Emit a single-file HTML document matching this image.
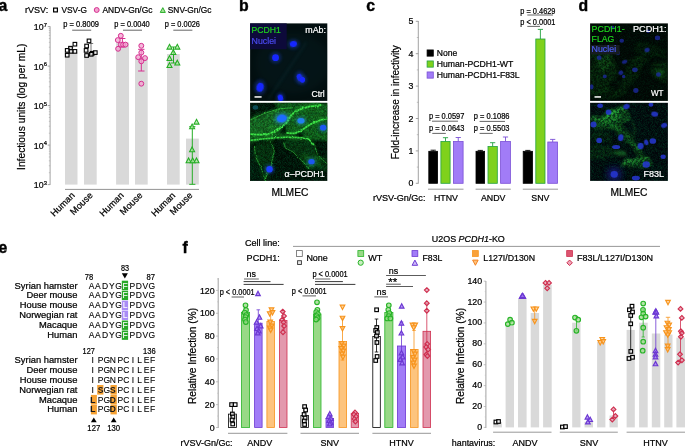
<!DOCTYPE html>
<html><head><meta charset="utf-8"><title>Figure</title>
<style>
html,body{margin:0;padding:0;background:#fff;}
svg{display:block;font-family:"Liberation Sans", sans-serif;}
text{font-family:"Liberation Sans", sans-serif;}
</style></head>
<body>
<svg width="685" height="446" viewBox="0 0 685 446">
<defs>
<filter id="b1" x="-50%" y="-50%" width="200%" height="200%"><feGaussianBlur stdDeviation="4"/></filter>
<filter id="b2" x="-50%" y="-50%" width="200%" height="200%"><feGaussianBlur stdDeviation="9"/></filter>
<filter id="b3" x="-50%" y="-50%" width="200%" height="200%"><feGaussianBlur stdDeviation="20"/></filter>
<filter id="b0" x="-50%" y="-50%" width="200%" height="200%"><feGaussianBlur stdDeviation="2"/></filter>
<filter id="noise" x="0" y="0" width="100%" height="100%">
<feTurbulence type="fractalNoise" baseFrequency="0.9" numOctaves="2" seed="3" result="n"/>
<feColorMatrix in="n" type="matrix" values="0 0 0 0 0  0 0 0 0 0.9  0 0 0 0 0.2  0 1.6 0 0 -0.55"/>
</filter>
<filter id="rough" x="-10%" y="-10%" width="120%" height="120%">
<feTurbulence type="fractalNoise" baseFrequency="0.035" numOctaves="2" seed="7" result="t"/>
<feDisplacementMap in="SourceGraphic" in2="t" scale="14" xChannelSelector="R" yChannelSelector="G" result="d"/>
<feGaussianBlur in="d" stdDeviation="2.6"/>
</filter>
<filter id="rough2" x="-10%" y="-10%" width="120%" height="120%">
<feTurbulence type="fractalNoise" baseFrequency="0.02" numOctaves="2" seed="11" result="t"/>
<feDisplacementMap in="SourceGraphic" in2="t" scale="40" xChannelSelector="R" yChannelSelector="G" result="d"/>
<feGaussianBlur in="d" stdDeviation="9"/>
</filter>
<filter id="tex" x="-15%" y="-15%" width="130%" height="130%" color-interpolation-filters="sRGB">
<feTurbulence type="fractalNoise" baseFrequency="0.02" numOctaves="2" seed="5" result="t"/>
<feTurbulence type="fractalNoise" baseFrequency="0.09" numOctaves="3" seed="9" result="t2"/>
<feColorMatrix in="t2" type="matrix" values="0 0 0 0 1  0 0 0 0 1  0 0 0 0 1  3.2 0 0 0 -1.15" result="mask"/>
<feDisplacementMap in="SourceGraphic" in2="t" scale="45" xChannelSelector="R" yChannelSelector="G" result="d"/>
<feGaussianBlur in="d" stdDeviation="7" result="g"/>
<feComposite in="g" in2="mask" operator="arithmetic" k1="0.85" k2="0.3" k3="0" k4="0"/>
</filter>
<clipPath id="cb1"><rect x="250.1" y="23.4" width="77.2" height="77.5"/></clipPath>
<clipPath id="cb2"><rect x="250.1" y="102.8" width="77.2" height="78.1"/></clipPath>
<clipPath id="cd1"><rect x="590.1" y="23.4" width="77.8" height="77.5"/></clipPath>
<clipPath id="cd2"><rect x="590.1" y="102.8" width="77.8" height="78.1"/></clipPath>
</defs>

<rect width="685" height="446" fill="#fff"/>
<text x="-1.50" y="10.80" font-size="15.8" font-weight="bold" stroke="#000" stroke-width="0.4">a</text>
<text x="24.90" y="13.00" font-size="8.8" textLength="23.30" lengthAdjust="spacingAndGlyphs" stroke="#000" stroke-width="0.22" >rVSV:</text>
<rect x="53.60" y="8.10" width="3.80" height="3.80" fill="#fff" stroke="#000" stroke-width="1.2"/>
<text x="61.50" y="13.00" font-size="8.8" textLength="25.40" lengthAdjust="spacingAndGlyphs" stroke="#000" stroke-width="0.22" >VSV-G</text>
<circle cx="96.70" cy="10.00" r="2.45" fill="#f3a3cf" stroke="#d62f90" stroke-width="1.0"/>
<text x="102.50" y="13.00" font-size="8.8" textLength="49.90" lengthAdjust="spacingAndGlyphs" stroke="#000" stroke-width="0.22" >ANDV-Gn/Gc</text>
<path d="M162.80 7.66L165.33 12.42L160.27 12.42Z" fill="#a9e49c" stroke="#25ad25" stroke-width="1.0" stroke-linejoin="miter"/>
<text x="167.80" y="13.00" font-size="8.8" textLength="43.60" lengthAdjust="spacingAndGlyphs" stroke="#000" stroke-width="0.22" >SNV-Gn/Gc</text>
<rect x="65.00" y="51.50" width="12.50" height="133.10" fill="#d9d9d9" />
<rect x="84.00" y="50.50" width="12.70" height="134.10" fill="#d9d9d9" />
<rect x="116.10" y="42.60" width="12.90" height="142.00" fill="#d9d9d9" />
<rect x="135.00" y="57.50" width="12.70" height="127.10" fill="#d9d9d9" />
<rect x="167.00" y="54.00" width="12.70" height="130.60" fill="#d9d9d9" />
<rect x="186.00" y="138.60" width="12.80" height="46.00" fill="#d9d9d9" />
<line x1="50.10" y1="26.30" x2="50.10" y2="184.90" stroke="#8c8c8c" stroke-width="0.8" />
<line x1="47.70" y1="184.60" x2="50.10" y2="184.60" stroke="#8c8c8c" stroke-width="0.8" />
<text x="43.60" y="188.40" font-size="8.8" text-anchor="end" stroke="#000" stroke-width="0.22" >10</text>
<text x="43.80" y="184.90" font-size="5.8" stroke="#000" stroke-width="0.22" >3</text>
<line x1="48.80" y1="172.71" x2="50.10" y2="172.71" stroke="#8c8c8c" stroke-width="0.4" />
<line x1="48.80" y1="165.75" x2="50.10" y2="165.75" stroke="#8c8c8c" stroke-width="0.4" />
<line x1="48.80" y1="160.82" x2="50.10" y2="160.82" stroke="#8c8c8c" stroke-width="0.4" />
<line x1="48.80" y1="156.99" x2="50.10" y2="156.99" stroke="#8c8c8c" stroke-width="0.4" />
<line x1="48.80" y1="153.86" x2="50.10" y2="153.86" stroke="#8c8c8c" stroke-width="0.4" />
<line x1="48.80" y1="151.22" x2="50.10" y2="151.22" stroke="#8c8c8c" stroke-width="0.4" />
<line x1="48.80" y1="148.93" x2="50.10" y2="148.93" stroke="#8c8c8c" stroke-width="0.4" />
<line x1="48.80" y1="146.91" x2="50.10" y2="146.91" stroke="#8c8c8c" stroke-width="0.4" />
<line x1="47.70" y1="145.10" x2="50.10" y2="145.10" stroke="#8c8c8c" stroke-width="0.8" />
<text x="43.60" y="148.90" font-size="8.8" text-anchor="end" stroke="#000" stroke-width="0.22" >10</text>
<text x="43.80" y="145.40" font-size="5.8" stroke="#000" stroke-width="0.22" >4</text>
<line x1="48.80" y1="133.21" x2="50.10" y2="133.21" stroke="#8c8c8c" stroke-width="0.4" />
<line x1="48.80" y1="126.25" x2="50.10" y2="126.25" stroke="#8c8c8c" stroke-width="0.4" />
<line x1="48.80" y1="121.32" x2="50.10" y2="121.32" stroke="#8c8c8c" stroke-width="0.4" />
<line x1="48.80" y1="117.49" x2="50.10" y2="117.49" stroke="#8c8c8c" stroke-width="0.4" />
<line x1="48.80" y1="114.36" x2="50.10" y2="114.36" stroke="#8c8c8c" stroke-width="0.4" />
<line x1="48.80" y1="111.72" x2="50.10" y2="111.72" stroke="#8c8c8c" stroke-width="0.4" />
<line x1="48.80" y1="109.43" x2="50.10" y2="109.43" stroke="#8c8c8c" stroke-width="0.4" />
<line x1="48.80" y1="107.41" x2="50.10" y2="107.41" stroke="#8c8c8c" stroke-width="0.4" />
<line x1="47.70" y1="105.60" x2="50.10" y2="105.60" stroke="#8c8c8c" stroke-width="0.8" />
<text x="43.60" y="109.40" font-size="8.8" text-anchor="end" stroke="#000" stroke-width="0.22" >10</text>
<text x="43.80" y="105.90" font-size="5.8" stroke="#000" stroke-width="0.22" >5</text>
<line x1="48.80" y1="93.71" x2="50.10" y2="93.71" stroke="#8c8c8c" stroke-width="0.4" />
<line x1="48.80" y1="86.75" x2="50.10" y2="86.75" stroke="#8c8c8c" stroke-width="0.4" />
<line x1="48.80" y1="81.82" x2="50.10" y2="81.82" stroke="#8c8c8c" stroke-width="0.4" />
<line x1="48.80" y1="77.99" x2="50.10" y2="77.99" stroke="#8c8c8c" stroke-width="0.4" />
<line x1="48.80" y1="74.86" x2="50.10" y2="74.86" stroke="#8c8c8c" stroke-width="0.4" />
<line x1="48.80" y1="72.22" x2="50.10" y2="72.22" stroke="#8c8c8c" stroke-width="0.4" />
<line x1="48.80" y1="69.93" x2="50.10" y2="69.93" stroke="#8c8c8c" stroke-width="0.4" />
<line x1="48.80" y1="67.91" x2="50.10" y2="67.91" stroke="#8c8c8c" stroke-width="0.4" />
<line x1="47.70" y1="66.10" x2="50.10" y2="66.10" stroke="#8c8c8c" stroke-width="0.8" />
<text x="43.60" y="69.90" font-size="8.8" text-anchor="end" stroke="#000" stroke-width="0.22" >10</text>
<text x="43.80" y="66.40" font-size="5.8" stroke="#000" stroke-width="0.22" >6</text>
<line x1="48.80" y1="54.21" x2="50.10" y2="54.21" stroke="#8c8c8c" stroke-width="0.4" />
<line x1="48.80" y1="47.25" x2="50.10" y2="47.25" stroke="#8c8c8c" stroke-width="0.4" />
<line x1="48.80" y1="42.32" x2="50.10" y2="42.32" stroke="#8c8c8c" stroke-width="0.4" />
<line x1="48.80" y1="38.49" x2="50.10" y2="38.49" stroke="#8c8c8c" stroke-width="0.4" />
<line x1="48.80" y1="35.36" x2="50.10" y2="35.36" stroke="#8c8c8c" stroke-width="0.4" />
<line x1="48.80" y1="32.72" x2="50.10" y2="32.72" stroke="#8c8c8c" stroke-width="0.4" />
<line x1="48.80" y1="30.43" x2="50.10" y2="30.43" stroke="#8c8c8c" stroke-width="0.4" />
<line x1="48.80" y1="28.41" x2="50.10" y2="28.41" stroke="#8c8c8c" stroke-width="0.4" />
<line x1="47.70" y1="26.60" x2="50.10" y2="26.60" stroke="#8c8c8c" stroke-width="0.8" />
<text x="43.60" y="30.40" font-size="8.8" text-anchor="end" stroke="#000" stroke-width="0.22" >10</text>
<text x="43.80" y="26.90" font-size="5.8" stroke="#000" stroke-width="0.22" >7</text>
<line x1="65.00" y1="189.40" x2="199.00" y2="189.40" stroke="#777" stroke-width="0.8" />
<text x="75.30" y="196.00" font-size="9.2" text-anchor="end" transform="rotate(-45 75.30 196.00)" stroke="#000" stroke-width="0.22" >Human</text>
<text x="93.30" y="196.00" font-size="9.2" text-anchor="end" transform="rotate(-45 93.30 196.00)" stroke="#000" stroke-width="0.22" >Mouse</text>
<text x="124.30" y="196.00" font-size="9.2" text-anchor="end" transform="rotate(-45 124.30 196.00)" stroke="#000" stroke-width="0.22" >Human</text>
<text x="143.10" y="196.00" font-size="9.2" text-anchor="end" transform="rotate(-45 143.10 196.00)" stroke="#000" stroke-width="0.22" >Mouse</text>
<text x="175.90" y="196.00" font-size="9.2" text-anchor="end" transform="rotate(-45 175.90 196.00)" stroke="#000" stroke-width="0.22" >Human</text>
<text x="193.00" y="196.00" font-size="9.2" text-anchor="end" transform="rotate(-45 193.00 196.00)" stroke="#000" stroke-width="0.22" >Mouse</text>
<text x="25.20" y="106.80" font-size="10.2" text-anchor="middle" textLength="126.30" lengthAdjust="spacingAndGlyphs" transform="rotate(-90 25.20 106.80)" stroke="#000" stroke-width="0.22" >Infectious units (log per mL)</text>
<text x="63.30" y="27.30" font-size="8.3" textLength="35.70" lengthAdjust="spacingAndGlyphs" stroke="#000" stroke-width="0.22" >p = 0.8009</text>
<line x1="72.20" y1="30.20" x2="91.20" y2="30.20" stroke="#666" stroke-width="1.0" />
<text x="114.30" y="27.30" font-size="8.3" textLength="35.40" lengthAdjust="spacingAndGlyphs" stroke="#000" stroke-width="0.22" >p = 0.0040</text>
<line x1="123.00" y1="30.20" x2="142.00" y2="30.20" stroke="#666" stroke-width="1.0" />
<text x="164.80" y="27.30" font-size="8.3" textLength="35.20" lengthAdjust="spacingAndGlyphs" stroke="#000" stroke-width="0.22" >p = 0.0026</text>
<line x1="173.30" y1="30.20" x2="192.40" y2="30.20" stroke="#666" stroke-width="1.0" />
<line x1="71.00" y1="47.50" x2="71.00" y2="52.50" stroke="#555" stroke-width="0.8" />
<line x1="68.80" y1="47.50" x2="73.20" y2="47.50" stroke="#555" stroke-width="0.8" />
<line x1="68.80" y1="52.50" x2="73.20" y2="52.50" stroke="#555" stroke-width="0.8" />
<rect x="73.10" y="42.40" width="3.60" height="3.60" fill="#fff" fill-opacity="0.6" stroke="#000" stroke-width="1.1"/>
<rect x="68.70" y="46.40" width="3.60" height="3.60" fill="#fff" fill-opacity="0.6" stroke="#000" stroke-width="1.1"/>
<rect x="65.40" y="48.60" width="3.60" height="3.60" fill="#fff" fill-opacity="0.6" stroke="#000" stroke-width="1.1"/>
<rect x="69.30" y="49.60" width="3.60" height="3.60" fill="#fff" fill-opacity="0.6" stroke="#000" stroke-width="1.1"/>
<rect x="73.10" y="49.60" width="3.60" height="3.60" fill="#fff" fill-opacity="0.6" stroke="#000" stroke-width="1.1"/>
<rect x="65.40" y="53.40" width="3.60" height="3.60" fill="#fff" fill-opacity="0.6" stroke="#000" stroke-width="1.1"/>
<line x1="91.00" y1="43.50" x2="91.00" y2="55.20" stroke="#555" stroke-width="0.8" />
<line x1="88.80" y1="43.50" x2="93.20" y2="43.50" stroke="#555" stroke-width="0.8" />
<line x1="88.80" y1="55.20" x2="93.20" y2="55.20" stroke="#555" stroke-width="0.8" />
<rect x="87.20" y="39.10" width="3.60" height="3.60" fill="#fff" fill-opacity="0.6" stroke="#000" stroke-width="1.1"/>
<rect x="84.80" y="44.20" width="3.60" height="3.60" fill="#fff" fill-opacity="0.6" stroke="#000" stroke-width="1.1"/>
<rect x="84.30" y="48.60" width="3.60" height="3.60" fill="#fff" fill-opacity="0.6" stroke="#000" stroke-width="1.1"/>
<rect x="90.50" y="51.50" width="3.60" height="3.60" fill="#fff" fill-opacity="0.6" stroke="#000" stroke-width="1.1"/>
<rect x="93.50" y="50.80" width="3.60" height="3.60" fill="#fff" fill-opacity="0.6" stroke="#000" stroke-width="1.1"/>
<rect x="84.80" y="53.70" width="3.60" height="3.60" fill="#fff" fill-opacity="0.6" stroke="#000" stroke-width="1.1"/>
<rect x="89.40" y="52.50" width="3.60" height="3.60" fill="#fff" fill-opacity="0.6" stroke="#000" stroke-width="1.1"/>
<line x1="122.40" y1="38.50" x2="122.40" y2="47.00" stroke="#d62f90" stroke-width="1.0" />
<line x1="119.40" y1="38.50" x2="125.40" y2="38.50" stroke="#d62f90" stroke-width="1.0" />
<line x1="119.40" y1="47.00" x2="125.40" y2="47.00" stroke="#d62f90" stroke-width="1.0" />
<circle cx="120.80" cy="35.80" r="2.45" fill="#f3a3cf" fill-opacity="0.75" stroke="#d62f90" stroke-width="1.0"/>
<circle cx="117.80" cy="40.10" r="2.45" fill="#f3a3cf" fill-opacity="0.75" stroke="#d62f90" stroke-width="1.0"/>
<circle cx="120.80" cy="44.60" r="2.45" fill="#f3a3cf" fill-opacity="0.75" stroke="#d62f90" stroke-width="1.0"/>
<circle cx="123.10" cy="44.60" r="2.45" fill="#f3a3cf" fill-opacity="0.75" stroke="#d62f90" stroke-width="1.0"/>
<circle cx="125.50" cy="44.60" r="2.45" fill="#f3a3cf" fill-opacity="0.75" stroke="#d62f90" stroke-width="1.0"/>
<circle cx="118.10" cy="48.80" r="2.45" fill="#f3a3cf" fill-opacity="0.75" stroke="#d62f90" stroke-width="1.0"/>
<line x1="141.30" y1="49.30" x2="141.30" y2="71.00" stroke="#d62f90" stroke-width="1.0" />
<line x1="138.10" y1="49.30" x2="144.50" y2="49.30" stroke="#d62f90" stroke-width="1.0" />
<line x1="138.10" y1="71.00" x2="144.50" y2="71.00" stroke="#d62f90" stroke-width="1.0" />
<circle cx="141.30" cy="45.80" r="2.45" fill="#f3a3cf" fill-opacity="0.75" stroke="#d62f90" stroke-width="1.0"/>
<circle cx="141.30" cy="52.60" r="2.45" fill="#f3a3cf" fill-opacity="0.75" stroke="#d62f90" stroke-width="1.0"/>
<circle cx="138.20" cy="57.20" r="2.45" fill="#f3a3cf" fill-opacity="0.75" stroke="#d62f90" stroke-width="1.0"/>
<circle cx="145.00" cy="58.10" r="2.45" fill="#f3a3cf" fill-opacity="0.75" stroke="#d62f90" stroke-width="1.0"/>
<circle cx="141.30" cy="61.30" r="2.45" fill="#f3a3cf" fill-opacity="0.75" stroke="#d62f90" stroke-width="1.0"/>
<circle cx="141.30" cy="83.70" r="2.45" fill="#f3a3cf" fill-opacity="0.75" stroke="#d62f90" stroke-width="1.0"/>
<line x1="173.50" y1="47.00" x2="173.50" y2="63.00" stroke="#25ad25" stroke-width="1.0" />
<line x1="170.70" y1="47.00" x2="176.30" y2="47.00" stroke="#25ad25" stroke-width="1.0" />
<line x1="170.70" y1="63.00" x2="176.30" y2="63.00" stroke="#25ad25" stroke-width="1.0" />
<path d="M169.50 44.36L172.03 49.12L166.97 49.12Z" fill="#a9e49c" fill-opacity="0.75" stroke="#25ad25" stroke-width="1.05" stroke-linejoin="miter"/>
<path d="M177.30 44.36L179.83 49.12L174.77 49.12Z" fill="#a9e49c" fill-opacity="0.75" stroke="#25ad25" stroke-width="1.05" stroke-linejoin="miter"/>
<path d="M173.30 49.66L175.83 54.42L170.77 54.42Z" fill="#a9e49c" fill-opacity="0.75" stroke="#25ad25" stroke-width="1.05" stroke-linejoin="miter"/>
<path d="M169.50 55.66L172.03 60.42L166.97 60.42Z" fill="#a9e49c" fill-opacity="0.75" stroke="#25ad25" stroke-width="1.05" stroke-linejoin="miter"/>
<path d="M177.30 60.16L179.83 64.92L174.77 64.92Z" fill="#a9e49c" fill-opacity="0.75" stroke="#25ad25" stroke-width="1.05" stroke-linejoin="miter"/>
<path d="M169.50 62.66L172.03 67.42L166.97 67.42Z" fill="#a9e49c" fill-opacity="0.75" stroke="#25ad25" stroke-width="1.05" stroke-linejoin="miter"/>
<line x1="192.30" y1="126.70" x2="192.30" y2="184.30" stroke="#25ad25" stroke-width="1.0" />
<line x1="189.20" y1="126.70" x2="195.40" y2="126.70" stroke="#25ad25" stroke-width="1.0" />
<line x1="189.20" y1="184.30" x2="195.40" y2="184.30" stroke="#25ad25" stroke-width="1.0" />
<path d="M196.50 119.36L199.03 124.12L193.97 124.12Z" fill="#a9e49c" fill-opacity="0.75" stroke="#25ad25" stroke-width="1.05" stroke-linejoin="miter"/>
<path d="M192.10 124.06L194.63 128.82L189.57 128.82Z" fill="#a9e49c" fill-opacity="0.75" stroke="#25ad25" stroke-width="1.05" stroke-linejoin="miter"/>
<path d="M192.10 146.95L194.63 151.72L189.57 151.72Z" fill="#a9e49c" fill-opacity="0.75" stroke="#25ad25" stroke-width="1.05" stroke-linejoin="miter"/>
<path d="M188.60 157.95L191.13 162.72L186.07 162.72Z" fill="#a9e49c" fill-opacity="0.75" stroke="#25ad25" stroke-width="1.05" stroke-linejoin="miter"/>
<path d="M192.70 157.95L195.23 162.72L190.17 162.72Z" fill="#a9e49c" fill-opacity="0.75" stroke="#25ad25" stroke-width="1.05" stroke-linejoin="miter"/>
<path d="M196.50 157.95L199.03 162.72L193.97 162.72Z" fill="#a9e49c" fill-opacity="0.75" stroke="#25ad25" stroke-width="1.05" stroke-linejoin="miter"/>
<text x="239.00" y="10.70" font-size="15.8" font-weight="bold" stroke="#000" stroke-width="0.4">b</text>
<rect x="250.10" y="23.40" width="77.20" height="77.50" fill="#030f10" />
<g clip-path="url(#cb1)"><g transform="translate(246 20) scale(0.18818)">
<ellipse cx="250" cy="230" rx="200" ry="160" fill="#0a2a30" opacity="0.22" filter="url(#b3)" transform="scale(1)"/>
<path d="M120 420 Q200 300 320 120" stroke="#0e3a40" stroke-width="10" fill="none" opacity="0.35" filter="url(#b2)"/>
<ellipse cx="252" cy="128" rx="32.3" ry="27.2" fill="#1438a8" opacity="0.45" filter="url(#b2)"/>
<ellipse cx="252" cy="128" rx="19" ry="16" fill="#1828ff" opacity="1" filter="url(#b1)" transform="rotate(-10 252 128)"/>
<ellipse cx="157" cy="200" rx="30.599999999999998" ry="30.599999999999998" fill="#1438a8" opacity="0.45" filter="url(#b2)"/>
<ellipse cx="157" cy="200" rx="18" ry="18" fill="#1828ff" opacity="1" filter="url(#b1)" transform="rotate(0 157 200)"/>
<ellipse cx="285" cy="305" rx="25.5" ry="34.0" fill="#1438a8" opacity="0.45" filter="url(#b2)"/>
<ellipse cx="285" cy="305" rx="15" ry="20" fill="#1828ff" opacity="1" filter="url(#b1)" transform="rotate(-20 285 305)"/>
<ellipse cx="300" cy="318" rx="23.8" ry="25.5" fill="#1438a8" opacity="0.45" filter="url(#b2)"/>
<ellipse cx="300" cy="318" rx="14" ry="15" fill="#1828ff" opacity="1" filter="url(#b1)" transform="rotate(0 300 318)"/>
<ellipse cx="75" cy="357" rx="32.3" ry="40.8" fill="#1438a8" opacity="0.45" filter="url(#b2)"/>
<ellipse cx="75" cy="357" rx="19" ry="24" fill="#1828ff" opacity="1" filter="url(#b1)" transform="rotate(15 75 357)"/>
<ellipse cx="183" cy="414" rx="23.8" ry="30.599999999999998" fill="#1438a8" opacity="0.45" filter="url(#b2)"/>
<ellipse cx="183" cy="414" rx="14" ry="18" fill="#1828ff" opacity="1" filter="url(#b1)" transform="rotate(-15 183 414)"/>
</g></g>
<rect x="250.10" y="23.40" width="36.60" height="25.80" fill="#0d0a3a" />
<text x="251.60" y="32.80" font-size="9.2" textLength="29.20" lengthAdjust="spacingAndGlyphs" fill="#1fd11f" stroke="#1fd11f" stroke-width="0.22" >PCDH1</text>
<text x="251.60" y="43.50" font-size="9.2" textLength="24.40" lengthAdjust="spacingAndGlyphs" fill="#4a4aee" stroke="#4a4aee" stroke-width="0.22" >Nuclei</text>
<text x="305.30" y="32.80" font-size="9.2" textLength="20.70" lengthAdjust="spacingAndGlyphs" fill="#fff" stroke="#fff" stroke-width="0.22" >mAb:</text>
<text x="311.50" y="96.80" font-size="9.2" textLength="13.20" lengthAdjust="spacingAndGlyphs" fill="#fff" stroke="#fff" stroke-width="0.22" >Ctrl</text>
<rect x="254.50" y="96.20" width="7.10" height="1.50" fill="#fff" />
<rect x="250.10" y="102.80" width="77.20" height="78.10" fill="#020a04" />
<g clip-path="url(#cb2)"><g transform="translate(246 100) scale(0.18818)">
<path d="M10 110 L100 68 L180 45 L250 40 L240 85 L215 125 L160 168 L100 188 L10 184Z" fill="#22832a" opacity="0.36300000000000004" filter="url(#rough2)"/>
<path d="M10 110 L100 68 L180 45 L250 40 L240 85 L215 125 L160 168 L100 188 L10 184Z" fill="#22832a" opacity="0.66" filter="url(#tex)"/>
<path d="M150 10 L440 10 L440 40 L330 38 L270 58 L250 40 L180 45Z" fill="#1a7420" opacity="0.33" filter="url(#rough2)"/>
<path d="M150 10 L440 10 L440 40 L330 38 L270 58 L250 40 L180 45Z" fill="#1a7420" opacity="0.6" filter="url(#tex)"/>
<path d="M250 45 L330 36 L440 28 L440 95 L400 105 L340 132 L300 160 L255 180 L215 176 L217 126 L242 82Z" fill="#1b7520" opacity="0.385" filter="url(#rough2)"/>
<path d="M250 45 L330 36 L440 28 L440 95 L400 105 L340 132 L300 160 L255 180 L215 176 L217 126 L242 82Z" fill="#1b7520" opacity="0.7" filter="url(#tex)"/>
<path d="M300 160 L340 132 L400 105 L440 95 L440 215 L345 215 L300 200Z" fill="#1a7a20" opacity="0.35750000000000004" filter="url(#rough2)"/>
<path d="M300 160 L340 132 L400 105 L440 95 L440 215 L345 215 L300 200Z" fill="#1a7a20" opacity="0.65" filter="url(#tex)"/>
<path d="M10 186 L100 190 L160 170 L215 178 L300 202 L345 217 L330 205 L220 199 L150 202 L80 210 L10 217Z" fill="#1d7d22" opacity="0.35750000000000004" filter="url(#rough2)"/>
<path d="M10 186 L100 190 L160 170 L215 178 L300 202 L345 217 L330 205 L220 199 L150 202 L80 210 L10 217Z" fill="#1d7d22" opacity="0.65" filter="url(#tex)"/>
<path d="M45 245 L115 215 L142 242 L150 272 L140 312 L120 380 L100 425 L75 352 L50 300Z" fill="#0d4211" opacity="0.24750000000000003" filter="url(#rough2)"/>
<path d="M45 245 L115 215 L142 242 L150 272 L140 312 L120 380 L100 425 L75 352 L50 300Z" fill="#0d4211" opacity="0.45" filter="url(#tex)"/>
<path d="M200 225 L330 205 L365 245 L382 292 L412 322 L440 345 L440 380 L345 365 L320 345 L290 315 L250 276 L210 256Z" fill="#0f4a14" opacity="0.24750000000000003" filter="url(#rough2)"/>
<path d="M200 225 L330 205 L365 245 L382 292 L412 322 L440 345 L440 380 L345 365 L320 345 L290 315 L250 276 L210 256Z" fill="#0f4a14" opacity="0.45" filter="url(#tex)"/>
<path d="M300 290 L385 295 L400 350 L330 360Z" fill="#17691c" opacity="0.24750000000000003" filter="url(#rough2)"/>
<path d="M300 290 L385 295 L400 350 L330 360Z" fill="#17691c" opacity="0.45" filter="url(#tex)"/>
<path d="M10 225 L45 245 L50 300 L75 352 L100 430 L10 430Z" fill="#04160a" opacity="0.49500000000000005" filter="url(#rough2)"/>
<path d="M10 225 L45 245 L50 300 L75 352 L100 430 L10 430Z" fill="#04160a" opacity="0.9" filter="url(#tex)"/>
<rect x="10" y="10" width="430" height="430" filter="url(#noise)" opacity="0.22"/>
<path d="M10 181 L100 186 L160 166 L215 122 L241 80 L270 56 L330 36 L400 26" stroke="#2fc83a" stroke-width="18.2" fill="none" opacity="0.266" filter="url(#rough2)" stroke-linejoin="round"/>
<path d="M215 175 L260 178 L300 158 L340 130 L400 105 L440 95" stroke="#2fc83a" stroke-width="18.2" fill="none" opacity="0.266" filter="url(#rough2)" stroke-linejoin="round"/>
<path d="M10 216 L80 208 L150 201 L220 198 L300 201 L340 215 L362 238" stroke="#2fc83a" stroke-width="15.600000000000001" fill="none" opacity="0.25200000000000006" filter="url(#rough2)" stroke-linejoin="round"/>
<path d="M45 245 L50 300 L76 352 L95 400 L106 432" stroke="#2fc83a" stroke-width="8.84" fill="none" opacity="0.18200000000000002" filter="url(#rough2)" stroke-linejoin="round"/>
<path d="M115 215 L141 242 L150 272 L141 312 L132 345" stroke="#2fc83a" stroke-width="8.84" fill="none" opacity="0.168" filter="url(#rough2)" stroke-linejoin="round"/>
<path d="M200 226 L210 256 L250 276 L290 316 L320 346 L342 362" stroke="#2fc83a" stroke-width="8.84" fill="none" opacity="0.18200000000000002" filter="url(#rough2)" stroke-linejoin="round"/>
<path d="M330 205 L365 246 L381 292 L411 322 L440 346" stroke="#2fc83a" stroke-width="8.84" fill="none" opacity="0.168" filter="url(#rough2)" stroke-linejoin="round"/>
<path d="M10 112 L100 70 L180 46 L250 41" stroke="#2fc83a" stroke-width="10.4" fill="none" opacity="0.168" filter="url(#rough2)" stroke-linejoin="round"/>
<path d="M100 425 L120 380 L140 335" stroke="#2fc83a" stroke-width="10.4" fill="none" opacity="0.168" filter="url(#rough2)" stroke-linejoin="round"/>
<path d="M120 135 L170 150 L200 130" stroke="#2fc83a" stroke-width="7.800000000000001" fill="none" opacity="0.11200000000000002" filter="url(#rough2)" stroke-linejoin="round"/>
<path d="M10 181 L100 186 L160 166 L215 122 L241 80 L270 56 L330 36 L400 26" stroke="#3fe84a" stroke-width="9.450000000000001" fill="none" opacity="0.95" filter="url(#rough)" stroke-linejoin="round" stroke-dasharray="13 2.5"/>
<path d="M215 175 L260 178 L300 158 L340 130 L400 105 L440 95" stroke="#3fe84a" stroke-width="9.450000000000001" fill="none" opacity="0.95" filter="url(#rough)" stroke-linejoin="round" stroke-dasharray="13 2.5"/>
<path d="M10 216 L80 208 L150 201 L220 198 L300 201 L340 215 L362 238" stroke="#3fe84a" stroke-width="8.100000000000001" fill="none" opacity="0.9" filter="url(#rough)" stroke-linejoin="round" stroke-dasharray="13 2.5"/>
<path d="M45 245 L50 300 L76 352 L95 400 L106 432" stroke="#3fe84a" stroke-width="4.59" fill="none" opacity="0.65" filter="url(#rough)" stroke-linejoin="round" stroke-dasharray="13 2.5"/>
<path d="M115 215 L141 242 L150 272 L141 312 L132 345" stroke="#3fe84a" stroke-width="4.59" fill="none" opacity="0.6" filter="url(#rough)" stroke-linejoin="round" stroke-dasharray="13 2.5"/>
<path d="M200 226 L210 256 L250 276 L290 316 L320 346 L342 362" stroke="#3fe84a" stroke-width="4.59" fill="none" opacity="0.65" filter="url(#rough)" stroke-linejoin="round" stroke-dasharray="13 2.5"/>
<path d="M330 205 L365 246 L381 292 L411 322 L440 346" stroke="#3fe84a" stroke-width="4.59" fill="none" opacity="0.6" filter="url(#rough)" stroke-linejoin="round" stroke-dasharray="13 2.5"/>
<path d="M10 112 L100 70 L180 46 L250 41" stroke="#3fe84a" stroke-width="5.4" fill="none" opacity="0.6" filter="url(#rough)" stroke-linejoin="round" stroke-dasharray="13 2.5"/>
<path d="M100 425 L120 380 L140 335" stroke="#3fe84a" stroke-width="5.4" fill="none" opacity="0.6" filter="url(#rough)" stroke-linejoin="round" stroke-dasharray="13 2.5"/>
<path d="M120 135 L170 150 L200 130" stroke="#3fe84a" stroke-width="4.050000000000001" fill="none" opacity="0.4" filter="url(#rough)" stroke-linejoin="round" stroke-dasharray="13 2.5"/>
<ellipse cx="190" cy="98" rx="40.5" ry="31.5" fill="#2a90c0" opacity="0.55" filter="url(#b2)" transform="rotate(-10 190 98)"/>
<ellipse cx="190" cy="98" rx="27" ry="21" fill="#1a6cff" filter="url(#b1)" transform="rotate(-10 190 98)"/>
<ellipse cx="292" cy="110" rx="28.5" ry="22.5" fill="#2a90c0" opacity="0.55" filter="url(#b2)" transform="rotate(0 292 110)"/>
<ellipse cx="292" cy="110" rx="19" ry="15" fill="#2080f0" filter="url(#b1)" transform="rotate(0 292 110)"/>
<ellipse cx="410" cy="147" rx="25.5" ry="22.5" fill="#1a70b0" opacity="0.55" filter="url(#b2)" transform="rotate(0 410 147)"/>
<ellipse cx="410" cy="147" rx="17" ry="15" fill="#1a58f0" filter="url(#b1)" transform="rotate(0 410 147)"/>
<ellipse cx="348" cy="328" rx="25.5" ry="21.0" fill="#1a70b0" opacity="0.55" filter="url(#b2)" transform="rotate(0 348 328)"/>
<ellipse cx="348" cy="328" rx="17" ry="14" fill="#1a58f0" filter="url(#b1)" transform="rotate(0 348 328)"/>
<ellipse cx="125" cy="368" rx="25.5" ry="25.5" fill="#1a50c0" opacity="0.55" filter="url(#b2)" transform="rotate(0 125 368)"/>
<ellipse cx="125" cy="368" rx="17" ry="17" fill="#1a40ff" filter="url(#b1)" transform="rotate(0 125 368)"/>
<ellipse cx="50" cy="40" rx="15" ry="12" fill="#0e5a68" opacity="0.8" filter="url(#b1)" transform="rotate(0 50 40)"/>
</g></g>
<text x="284.60" y="176.80" font-size="9.2" textLength="40.10" lengthAdjust="spacingAndGlyphs" fill="#fff" stroke="#fff" stroke-width="0.22" >α–PCDH1</text>
<text x="289.90" y="196.00" font-size="10.2" text-anchor="middle" textLength="37.00" lengthAdjust="spacingAndGlyphs" stroke="#000" stroke-width="0.22" >MLMEC</text>
<text x="366.30" y="10.90" font-size="15.8" font-weight="bold" stroke="#000" stroke-width="0.4">c</text>
<line x1="418.30" y1="21.00" x2="418.30" y2="183.60" stroke="#8c8c8c" stroke-width="0.8" />
<line x1="415.80" y1="183.30" x2="418.30" y2="183.30" stroke="#8c8c8c" stroke-width="0.8" />
<text x="413.50" y="186.40" font-size="8.8" text-anchor="end" stroke="#000" stroke-width="0.22" >0</text>
<line x1="416.80" y1="167.10" x2="418.30" y2="167.10" stroke="#8c8c8c" stroke-width="0.5" />
<line x1="415.80" y1="150.90" x2="418.30" y2="150.90" stroke="#8c8c8c" stroke-width="0.8" />
<text x="413.50" y="154.00" font-size="8.8" text-anchor="end" stroke="#000" stroke-width="0.22" >1</text>
<line x1="416.80" y1="134.70" x2="418.30" y2="134.70" stroke="#8c8c8c" stroke-width="0.5" />
<line x1="415.80" y1="118.50" x2="418.30" y2="118.50" stroke="#8c8c8c" stroke-width="0.8" />
<text x="413.50" y="121.60" font-size="8.8" text-anchor="end" stroke="#000" stroke-width="0.22" >2</text>
<line x1="416.80" y1="102.30" x2="418.30" y2="102.30" stroke="#8c8c8c" stroke-width="0.5" />
<line x1="415.80" y1="86.10" x2="418.30" y2="86.10" stroke="#8c8c8c" stroke-width="0.8" />
<text x="413.50" y="89.20" font-size="8.8" text-anchor="end" stroke="#000" stroke-width="0.22" >3</text>
<line x1="416.80" y1="69.90" x2="418.30" y2="69.90" stroke="#8c8c8c" stroke-width="0.5" />
<line x1="415.80" y1="53.70" x2="418.30" y2="53.70" stroke="#8c8c8c" stroke-width="0.8" />
<text x="413.50" y="56.80" font-size="8.8" text-anchor="end" stroke="#000" stroke-width="0.22" >4</text>
<line x1="416.80" y1="37.50" x2="418.30" y2="37.50" stroke="#8c8c8c" stroke-width="0.5" />
<line x1="415.80" y1="21.30" x2="418.30" y2="21.30" stroke="#8c8c8c" stroke-width="0.8" />
<text x="413.50" y="24.40" font-size="8.8" text-anchor="end" stroke="#000" stroke-width="0.22" >5</text>
<text x="399.40" y="102.20" font-size="10" text-anchor="middle" textLength="114.00" lengthAdjust="spacingAndGlyphs" transform="rotate(-90 399.40 102.20)" stroke="#000" stroke-width="0.22" >Fold-increase in infectivity</text>
<rect x="427.10" y="49.95" width="6.20" height="6.20" fill="#000" stroke="#000" stroke-width="0.8" />
<text x="436.70" y="56.00" font-size="8.8" textLength="20.50" lengthAdjust="spacingAndGlyphs" stroke="#000" stroke-width="0.22" >None</text>
<rect x="427.10" y="60.95" width="6.20" height="6.20" fill="#7fd11c" stroke="#23a23f" stroke-width="0.8" />
<text x="436.70" y="67.00" font-size="8.8" textLength="76.60" lengthAdjust="spacingAndGlyphs" stroke="#000" stroke-width="0.22" >Human-PCDH1-WT</text>
<rect x="427.10" y="71.95" width="6.20" height="6.20" fill="#a17cf7" stroke="#7a4fd6" stroke-width="0.8" />
<text x="436.70" y="78.00" font-size="8.8" textLength="83.00" lengthAdjust="spacingAndGlyphs" stroke="#000" stroke-width="0.22" >Human-PCDH1-F83L</text>
<line x1="433.20" y1="150.20" x2="433.20" y2="151.30" stroke="#000" stroke-width="0.9" />
<line x1="430.60" y1="150.20" x2="435.80" y2="150.20" stroke="#000" stroke-width="0.9" />
<rect x="428.80" y="151.30" width="8.80" height="32.00" fill="#000" stroke="#000" stroke-width="0.8" />
<line x1="445.50" y1="137.70" x2="445.50" y2="141.50" stroke="#23a23f" stroke-width="0.9" />
<line x1="442.90" y1="137.70" x2="448.10" y2="137.70" stroke="#23a23f" stroke-width="0.9" />
<rect x="440.90" y="141.50" width="9.20" height="41.80" fill="#7fd11c" stroke="#23a23f" stroke-width="0.8" />
<line x1="458.25" y1="137.50" x2="458.25" y2="141.50" stroke="#7a4fd6" stroke-width="0.9" />
<line x1="455.65" y1="137.50" x2="460.85" y2="137.50" stroke="#7a4fd6" stroke-width="0.9" />
<rect x="453.40" y="141.50" width="9.70" height="41.80" fill="#a17cf7" stroke="#7a4fd6" stroke-width="0.8" />
<line x1="428.00" y1="189.20" x2="463.50" y2="189.20" stroke="#808080" stroke-width="0.8" />
<text x="446.00" y="200.60" font-size="8.8" text-anchor="middle" stroke="#000" stroke-width="0.22" >HTNV</text>
<line x1="480.30" y1="150.40" x2="480.30" y2="151.30" stroke="#000" stroke-width="0.9" />
<line x1="477.70" y1="150.40" x2="482.90" y2="150.40" stroke="#000" stroke-width="0.9" />
<rect x="476.00" y="151.30" width="8.60" height="32.00" fill="#000" stroke="#000" stroke-width="0.8" />
<line x1="492.65" y1="142.70" x2="492.65" y2="146.50" stroke="#23a23f" stroke-width="0.9" />
<line x1="490.05" y1="142.70" x2="495.25" y2="142.70" stroke="#23a23f" stroke-width="0.9" />
<rect x="488.00" y="146.50" width="9.30" height="36.80" fill="#7fd11c" stroke="#23a23f" stroke-width="0.8" />
<line x1="505.50" y1="137.00" x2="505.50" y2="141.50" stroke="#7a4fd6" stroke-width="0.9" />
<line x1="502.90" y1="137.00" x2="508.10" y2="137.00" stroke="#7a4fd6" stroke-width="0.9" />
<rect x="500.60" y="141.50" width="9.80" height="41.80" fill="#a17cf7" stroke="#7a4fd6" stroke-width="0.8" />
<line x1="475.60" y1="189.20" x2="510.80" y2="189.20" stroke="#808080" stroke-width="0.8" />
<text x="493.20" y="200.60" font-size="8.8" text-anchor="middle" stroke="#000" stroke-width="0.22" >ANDV</text>
<line x1="527.85" y1="150.40" x2="527.85" y2="151.30" stroke="#000" stroke-width="0.9" />
<line x1="525.25" y1="150.40" x2="530.45" y2="150.40" stroke="#000" stroke-width="0.9" />
<rect x="523.20" y="151.30" width="9.30" height="32.00" fill="#000" stroke="#000" stroke-width="0.8" />
<line x1="540.40" y1="29.40" x2="540.40" y2="39.00" stroke="#23a23f" stroke-width="0.9" />
<line x1="537.80" y1="29.40" x2="543.00" y2="29.40" stroke="#23a23f" stroke-width="0.9" />
<rect x="535.80" y="39.00" width="9.20" height="144.30" fill="#7fd11c" stroke="#23a23f" stroke-width="0.8" />
<line x1="552.70" y1="139.40" x2="552.70" y2="142.00" stroke="#7a4fd6" stroke-width="0.9" />
<line x1="550.10" y1="139.40" x2="555.30" y2="139.40" stroke="#7a4fd6" stroke-width="0.9" />
<rect x="547.80" y="142.00" width="9.80" height="41.30" fill="#a17cf7" stroke="#7a4fd6" stroke-width="0.8" />
<line x1="522.80" y1="189.20" x2="558.00" y2="189.20" stroke="#808080" stroke-width="0.8" />
<text x="540.40" y="200.60" font-size="8.8" text-anchor="middle" stroke="#000" stroke-width="0.22" >SNV</text>
<text x="373.00" y="200.60" font-size="8.8" textLength="52.40" lengthAdjust="spacingAndGlyphs" stroke="#000" stroke-width="0.22" >rVSV-Gn/Gc:</text>
<text x="429.00" y="118.80" font-size="8.3" textLength="35.30" lengthAdjust="spacingAndGlyphs" stroke="#000" stroke-width="0.22" >p = 0.0597</text>
<line x1="432.00" y1="121.20" x2="458.00" y2="121.20" stroke="#555" stroke-width="0.9" />
<text x="429.00" y="131.00" font-size="8.3" textLength="35.30" lengthAdjust="spacingAndGlyphs" stroke="#000" stroke-width="0.22" >p = 0.0643</text>
<line x1="432.30" y1="133.40" x2="445.80" y2="133.40" stroke="#555" stroke-width="0.9" />
<text x="473.80" y="118.80" font-size="8.3" textLength="35.70" lengthAdjust="spacingAndGlyphs" stroke="#000" stroke-width="0.22" >p = 0.1086</text>
<line x1="479.60" y1="121.40" x2="505.00" y2="121.40" stroke="#555" stroke-width="0.9" />
<text x="473.80" y="131.00" font-size="8.3" textLength="35.70" lengthAdjust="spacingAndGlyphs" stroke="#000" stroke-width="0.22" >p = 0.5503</text>
<line x1="479.60" y1="133.40" x2="492.70" y2="133.40" stroke="#555" stroke-width="0.9" />
<text x="520.30" y="13.70" font-size="8.3" textLength="35.20" lengthAdjust="spacingAndGlyphs" stroke="#000" stroke-width="0.22" >p = 0.4629</text>
<line x1="527.30" y1="15.00" x2="553.00" y2="15.00" stroke="#555" stroke-width="0.9" />
<text x="520.30" y="24.60" font-size="8.3" textLength="35.20" lengthAdjust="spacingAndGlyphs" stroke="#000" stroke-width="0.22" >p &lt; 0.0001</text>
<line x1="527.30" y1="26.40" x2="540.00" y2="26.40" stroke="#555" stroke-width="0.9" />
<text x="578.50" y="10.80" font-size="15.8" font-weight="bold" stroke="#000" stroke-width="0.4">d</text>
<rect x="590.10" y="23.40" width="77.80" height="77.50" fill="#020604" />
<g clip-path="url(#cd1)"><g transform="translate(586 20) scale(0.18818)">
<path d="M25 185 L110 165 L160 215 L165 290 L120 370 L60 400 L25 380Z" fill="#145c18" opacity="0.34" filter="url(#tex)"/>
<path d="M55 195 L125 190 L140 250 L90 275 L60 250Z" fill="#238a28" opacity="0.26" filter="url(#tex)"/>
<path d="M215 250 L290 195 L335 205 L300 260 L250 330 L190 410 L140 420 L180 330Z" fill="#0f4a14" opacity="0.34" filter="url(#tex)"/>
<path d="M345 235 L435 215 L435 330 L385 335 L350 300Z" fill="#115016" opacity="0.34" filter="url(#tex)"/>
<path d="M372 262 L412 262 L412 300 L375 300Z" fill="#2fb83a" opacity="0.26" filter="url(#b2)"/>
<path d="M250 125 L330 115 L420 175 L330 195 L270 170Z" fill="#0c3c10" opacity="0.3" filter="url(#tex)"/>
<path d="M30 385 L140 345 L190 420 L30 430Z" fill="#0c3c10" opacity="0.3" filter="url(#tex)"/>
<path d="M235 215 L290 200 L330 160" stroke="#1f8a26" stroke-width="10.0" fill="none" opacity="0.315" filter="url(#tex)" stroke-linecap="round" stroke-linejoin="round"/>
<path d="M160 330 L175 360 L150 395" stroke="#1f8a26" stroke-width="10.0" fill="none" opacity="0.27999999999999997" filter="url(#tex)" stroke-linecap="round" stroke-linejoin="round"/>
<path d="M340 190 L400 185 L430 200" stroke="#1f8a26" stroke-width="8.0" fill="none" opacity="0.27999999999999997" filter="url(#tex)" stroke-linecap="round" stroke-linejoin="round"/>
<path d="M75 160 L120 150 L150 175" stroke="#1a7a20" stroke-width="8.0" fill="none" opacity="0.24499999999999997" filter="url(#tex)" stroke-linecap="round" stroke-linejoin="round"/>
<rect x="22" y="15" width="415" height="415" filter="url(#noise)" opacity="0.10"/>
<ellipse cx="380" cy="95" rx="14" ry="12" fill="#1e2ca6" opacity="0.75" filter="url(#b1)" transform="rotate(0 380 95)"/>
<ellipse cx="325" cy="160" rx="14" ry="12" fill="#1e2ca6" opacity="0.75" filter="url(#b1)" transform="rotate(-20 325 160)"/>
<ellipse cx="190" cy="110" rx="12" ry="11" fill="#1e2ca6" opacity="0.75" filter="url(#b1)" transform="rotate(0 190 110)"/>
<ellipse cx="170" cy="175" rx="11" ry="12" fill="#1e2ca6" opacity="0.75" filter="url(#b1)" transform="rotate(0 170 175)"/>
<ellipse cx="70" cy="200" rx="13" ry="12" fill="#1e2ca6" opacity="0.75" filter="url(#b1)" transform="rotate(0 70 200)"/>
<ellipse cx="205" cy="222" rx="15" ry="10" fill="#1e2ca6" opacity="0.75" filter="url(#b1)" transform="rotate(-20 205 222)"/>
<ellipse cx="260" cy="265" rx="15" ry="13" fill="#1e2ca6" opacity="0.75" filter="url(#b1)" transform="rotate(0 260 265)"/>
<ellipse cx="185" cy="280" rx="13" ry="12" fill="#1e2ca6" opacity="0.75" filter="url(#b1)" transform="rotate(-30 185 280)"/>
<ellipse cx="385" cy="290" rx="13" ry="12" fill="#1e2ca6" opacity="0.75" filter="url(#b1)" transform="rotate(0 385 290)"/>
<ellipse cx="100" cy="300" rx="10" ry="10" fill="#1e2ca6" opacity="0.75" filter="url(#b1)" transform="rotate(0 100 300)"/>
<ellipse cx="30" cy="355" rx="10" ry="14" fill="#1e2ca6" opacity="0.75" filter="url(#b1)" transform="rotate(0 30 355)"/>
<ellipse cx="265" cy="375" rx="14" ry="13" fill="#1e2ca6" opacity="0.75" filter="url(#b1)" transform="rotate(0 265 375)"/>
<ellipse cx="200" cy="300" rx="9" ry="9" fill="#1e2ca6" opacity="0.75" filter="url(#b1)" transform="rotate(0 200 300)"/>
<ellipse cx="140" cy="40" rx="12" ry="10" fill="#1e2ca6" opacity="0.75" filter="url(#b1)" transform="rotate(0 140 40)"/>
<ellipse cx="330" cy="60" rx="10" ry="9" fill="#1e2ca6" opacity="0.75" filter="url(#b1)" transform="rotate(0 330 60)"/>
</g></g>
<rect x="590.10" y="45.00" width="29.50" height="9.40" fill="#161c20" />
<text x="591.60" y="32.20" font-size="9.2" textLength="33.00" lengthAdjust="spacingAndGlyphs" fill="#1fd11f" stroke="#1fd11f" stroke-width="0.22" >PCDH1-</text>
<text x="591.60" y="41.60" font-size="9.2" textLength="22.60" lengthAdjust="spacingAndGlyphs" fill="#1fd11f" stroke="#1fd11f" stroke-width="0.22" >FLAG</text>
<text x="591.60" y="52.40" font-size="9.2" textLength="24.50" lengthAdjust="spacingAndGlyphs" fill="#4a5cec" stroke="#4a5cec" stroke-width="0.22" >Nuclei</text>
<text x="633.00" y="32.20" font-size="9.2" textLength="33.50" lengthAdjust="spacingAndGlyphs" fill="#fff" stroke="#fff" stroke-width="0.22" >PCDH1:</text>
<text x="650.90" y="96.20" font-size="9.2" textLength="12.60" lengthAdjust="spacingAndGlyphs" fill="#fff" stroke="#fff" stroke-width="0.22" >WT</text>
<rect x="594.50" y="96.20" width="6.50" height="1.50" fill="#fff" />
<rect x="590.10" y="102.80" width="77.80" height="78.10" fill="#02050a" />
<g clip-path="url(#cd2)"><g transform="translate(586 100) scale(0.18818)">
<path d="M25 95 L110 55 L205 30 L235 95 L200 130 L130 165 L40 155Z" fill="#1c8424" opacity="0.51" filter="url(#tex)"/>
<path d="M70 85 L165 55 L185 100 L110 135Z" fill="#30b83a" opacity="0.46" filter="url(#tex)"/>
<path d="M120 125 L200 130 L250 190 L300 255 L275 285 L220 230 L170 185Z" fill="#135a18" opacity="0.51" filter="url(#tex)"/>
<path d="M170 335 L250 312 L335 298 L345 355 L260 362 L185 352Z" fill="#1d8a26" opacity="0.51" filter="url(#tex)"/>
<path d="M150 268 L210 272 L215 298 L160 294Z" fill="#2aa030" opacity="0.46" filter="url(#b2)"/>
<path d="M25 235 L150 252 L160 300 L25 318Z" fill="#0c3c10" opacity="0.51" filter="url(#tex)"/>
<path d="M245 250 L300 270 L320 330 L265 312Z" fill="#17701c" opacity="0.51" filter="url(#tex)"/>
<path d="M25 160 L120 170 L150 230 L25 230Z" fill="#0a3410" opacity="0.46" filter="url(#tex)"/>
<path d="M35 100 L110 85 L170 60 L215 45" stroke="#3fd048" stroke-width="12.0" fill="none" opacity="0.48999999999999994" filter="url(#tex)" stroke-linecap="round" stroke-linejoin="round"/>
<path d="M130 130 L200 175 L255 230 L295 275" stroke="#2fb83a" stroke-width="10.0" fill="none" opacity="0.5249999999999999" filter="url(#tex)" stroke-linecap="round" stroke-linejoin="round"/>
<path d="M185 340 L250 322 L330 308" stroke="#3fd048" stroke-width="12.0" fill="none" opacity="0.48999999999999994" filter="url(#tex)" stroke-linecap="round" stroke-linejoin="round"/>
<path d="M240 120 L270 160 L255 180" stroke="#2fb83a" stroke-width="8.0" fill="none" opacity="0.42" filter="url(#tex)" stroke-linecap="round" stroke-linejoin="round"/>
<path d="M160 280 L205 285" stroke="#3fd048" stroke-width="10.0" fill="none" opacity="0.48999999999999994" filter="url(#tex)" stroke-linecap="round" stroke-linejoin="round"/>
<rect x="22" y="15" width="415" height="415" filter="url(#noise)" opacity="0.2"/>
<circle cx="150" cy="395" r="36" fill="#1a1a90" opacity="0.8" filter="url(#b3)"/>
<ellipse cx="75" cy="30" rx="15.120000000000001" ry="11.88" fill="#2838d4" opacity="0.85" filter="url(#b1)" transform="rotate(0 75 30)"/>
<ellipse cx="215" cy="35" rx="17.28" ry="14.040000000000001" fill="#2838d4" opacity="0.85" filter="url(#b1)" transform="rotate(-20 215 35)"/>
<ellipse cx="120" cy="65" rx="15.120000000000001" ry="14.040000000000001" fill="#2838d4" opacity="0.85" filter="url(#b1)" transform="rotate(0 120 65)"/>
<ellipse cx="365" cy="75" rx="18.36" ry="14.040000000000001" fill="#2838d4" opacity="0.85" filter="url(#b1)" transform="rotate(10 365 75)"/>
<ellipse cx="415" cy="135" rx="16.200000000000003" ry="12.96" fill="#2838d4" opacity="0.85" filter="url(#b1)" transform="rotate(-20 415 135)"/>
<ellipse cx="40" cy="130" rx="16.200000000000003" ry="16.200000000000003" fill="#2838d4" opacity="0.85" filter="url(#b1)" transform="rotate(0 40 130)"/>
<ellipse cx="185" cy="200" rx="14.040000000000001" ry="18.36" fill="#2838d4" opacity="0.85" filter="url(#b1)" transform="rotate(10 185 200)"/>
<ellipse cx="70" cy="215" rx="15.120000000000001" ry="14.040000000000001" fill="#2838d4" opacity="0.85" filter="url(#b1)" transform="rotate(0 70 215)"/>
<ellipse cx="355" cy="218" rx="17.28" ry="15.120000000000001" fill="#2838d4" opacity="0.85" filter="url(#b1)" transform="rotate(0 355 218)"/>
<ellipse cx="320" cy="225" rx="10.8" ry="15.120000000000001" fill="#2838d4" opacity="0.85" filter="url(#b1)" transform="rotate(-20 320 225)"/>
<ellipse cx="290" cy="245" rx="16.200000000000003" ry="17.28" fill="#2838d4" opacity="0.85" filter="url(#b1)" transform="rotate(10 290 245)"/>
<ellipse cx="160" cy="250" rx="21.6" ry="10.8" fill="#2838d4" opacity="0.85" filter="url(#b1)" transform="rotate(0 160 250)"/>
<ellipse cx="410" cy="302" rx="14.040000000000001" ry="11.88" fill="#2838d4" opacity="0.85" filter="url(#b1)" transform="rotate(0 410 302)"/>
<ellipse cx="320" cy="343" rx="19.44" ry="17.28" fill="#2838d4" opacity="0.85" filter="url(#b1)" transform="rotate(0 320 343)"/>
<ellipse cx="150" cy="395" rx="19.44" ry="18.36" fill="#2838d4" opacity="0.85" filter="url(#b1)" transform="rotate(0 150 395)"/>
<ellipse cx="265" cy="415" rx="21.6" ry="12.96" fill="#2838d4" opacity="0.85" filter="url(#b1)" transform="rotate(0 265 415)"/>
<ellipse cx="345" cy="25" rx="12.96" ry="10.8" fill="#2838d4" opacity="0.85" filter="url(#b1)" transform="rotate(0 345 25)"/>
</g></g>
<text x="643.40" y="176.80" font-size="9.2" textLength="20.70" lengthAdjust="spacingAndGlyphs" fill="#fff" stroke="#fff" stroke-width="0.22" >F83L</text>
<text x="629.00" y="196.00" font-size="10.2" text-anchor="middle" textLength="37.00" lengthAdjust="spacingAndGlyphs" stroke="#000" stroke-width="0.22" >MLMEC</text>
<text x="-1.50" y="252.80" font-size="15.8" font-weight="bold" stroke="#000" stroke-width="0.4">e</text>
<text x="77.50" y="288.50" font-size="8.7" text-anchor="end" textLength="62.89" lengthAdjust="spacingAndGlyphs" stroke="#000" stroke-width="0.22" >Syrian hamster</text>
<text x="91.70 97.90 105.10 111.90 118.50 125.20 132.30 138.90 145.40 151.80" y="288.50" font-size="8.5" text-anchor="middle" stroke="#000" stroke-width="0.1">AADYGFPDVG</text>
<rect x="121.80" y="280.70" width="6.30" height="9.40" fill="#27a827" />
<text transform="translate(125.20 288.50) scale(1.0 1)" font-size="8.5" text-anchor="middle" fill="#fff" stroke="#fff" stroke-width="0.1">F</text>
<text x="77.50" y="298.45" font-size="8.7" text-anchor="end" textLength="50.94" lengthAdjust="spacingAndGlyphs" stroke="#000" stroke-width="0.22" >Deer mouse</text>
<text x="91.70 97.90 105.10 111.90 118.50 125.20 132.30 138.90 145.40 151.80" y="298.45" font-size="8.5" text-anchor="middle" stroke="#000" stroke-width="0.1">AADYGFPDVG</text>
<rect x="121.80" y="290.65" width="6.30" height="9.40" fill="#27a827" />
<text transform="translate(125.20 298.45) scale(1.0 1)" font-size="8.5" text-anchor="middle" fill="#fff" stroke="#fff" stroke-width="0.1">F</text>
<text x="77.50" y="308.40" font-size="8.7" text-anchor="end" textLength="57.70" lengthAdjust="spacingAndGlyphs" stroke="#000" stroke-width="0.22" >House mouse</text>
<text x="91.70 97.90 105.10 111.90 118.50 125.20 132.30 138.90 145.40 151.80" y="308.40" font-size="8.5" text-anchor="middle" stroke="#000" stroke-width="0.1">AADYGLPDVG</text>
<rect x="121.80" y="300.60" width="6.30" height="9.40" fill="#a98cf6" />
<text transform="translate(125.20 308.40) scale(1.0 1)" font-size="8.5" text-anchor="middle" fill="#fff" stroke="#fff" stroke-width="0.1">L</text>
<text x="77.50" y="318.35" font-size="8.7" text-anchor="end" textLength="58.22" lengthAdjust="spacingAndGlyphs" stroke="#000" stroke-width="0.22" >Norwegian rat</text>
<text x="91.70 97.90 105.10 111.90 118.50 125.20 132.30 138.90 145.40 151.80" y="318.35" font-size="8.5" text-anchor="middle" stroke="#000" stroke-width="0.1">AADYGLPDVG</text>
<rect x="121.80" y="310.55" width="6.30" height="9.40" fill="#a98cf6" />
<text transform="translate(125.20 318.35) scale(1.0 1)" font-size="8.5" text-anchor="middle" fill="#fff" stroke="#fff" stroke-width="0.1">L</text>
<text x="77.50" y="328.30" font-size="8.7" text-anchor="end" textLength="38.47" lengthAdjust="spacingAndGlyphs" stroke="#000" stroke-width="0.22" >Macaque</text>
<text x="91.70 97.90 105.10 111.90 118.50 125.20 132.30 138.90 145.40 151.80" y="328.30" font-size="8.5" text-anchor="middle" stroke="#000" stroke-width="0.1">AADYGFPDVG</text>
<rect x="121.80" y="320.50" width="6.30" height="9.40" fill="#27a827" />
<text transform="translate(125.20 328.30) scale(1.0 1)" font-size="8.5" text-anchor="middle" fill="#fff" stroke="#fff" stroke-width="0.1">F</text>
<text x="77.50" y="338.25" font-size="8.7" text-anchor="end" textLength="30.15" lengthAdjust="spacingAndGlyphs" stroke="#000" stroke-width="0.22" >Human</text>
<text x="91.70 97.90 105.10 111.90 118.50 125.20 132.30 138.90 145.40 151.80" y="338.25" font-size="8.5" text-anchor="middle" stroke="#000" stroke-width="0.1">AADYGFPDVG</text>
<rect x="121.80" y="330.45" width="6.30" height="9.40" fill="#27a827" />
<text transform="translate(125.20 338.25) scale(1.0 1)" font-size="8.5" text-anchor="middle" fill="#fff" stroke="#fff" stroke-width="0.1">F</text>
<text x="84.70" y="279.50" font-size="8.9" textLength="8.40" lengthAdjust="spacingAndGlyphs" stroke="#000" stroke-width="0.22" >78</text>
<text x="146.60" y="279.50" font-size="8.9" textLength="8.50" lengthAdjust="spacingAndGlyphs" stroke="#000" stroke-width="0.22" >87</text>
<text x="120.90" y="270.80" font-size="8.9" textLength="8.10" lengthAdjust="spacingAndGlyphs" stroke="#000" stroke-width="0.22" >83</text>
<path d="M121.8 273.3 L127.9 273.3 L124.85 278.4Z" fill="#000"/>
<text x="77.50" y="362.80" font-size="8.7" text-anchor="end" textLength="62.89" lengthAdjust="spacingAndGlyphs" stroke="#000" stroke-width="0.22" >Syrian hamster</text>
<text x="92.60 100.70 106.90 112.80 120.40 126.20 132.90 139.70 146.60 152.60" y="362.80" font-size="8.5" text-anchor="middle" stroke="#000" stroke-width="0.1">IPGNPCILEF</text>
<text x="77.50" y="372.70" font-size="8.7" text-anchor="end" textLength="50.94" lengthAdjust="spacingAndGlyphs" stroke="#000" stroke-width="0.22" >Deer mouse</text>
<text x="92.60 100.70 106.90 112.80 120.40 126.20 132.90 139.70 146.60 152.60" y="372.70" font-size="8.5" text-anchor="middle" stroke="#000" stroke-width="0.1">IPGNPCILEF</text>
<text x="77.50" y="382.60" font-size="8.7" text-anchor="end" textLength="57.70" lengthAdjust="spacingAndGlyphs" stroke="#000" stroke-width="0.22" >House mouse</text>
<text x="92.60 100.70 106.90 112.80 120.40 126.20 132.90 139.70 146.60 152.60" y="382.60" font-size="8.5" text-anchor="middle" stroke="#000" stroke-width="0.1">IPGNPCILEF</text>
<text x="77.50" y="392.60" font-size="8.7" text-anchor="end" textLength="58.22" lengthAdjust="spacingAndGlyphs" stroke="#000" stroke-width="0.22" >Norwegian rat</text>
<text x="92.60 100.70 106.90 112.80 120.40 126.20 132.90 139.70 146.60 152.60" y="392.60" font-size="8.5" text-anchor="middle" stroke="#000" stroke-width="0.1">ISGSPCILEF</text>
<rect x="97.20" y="385.00" width="6.20" height="9.60" fill="#f7a233" />
<text transform="translate(100.70 392.60) scale(1.0 1)" font-size="8.5" text-anchor="middle" fill="#1a1a1a" font-weight="bold">S</text>
<rect x="110.50" y="385.00" width="6.30" height="9.60" fill="#f7a233" />
<text transform="translate(112.80 392.60) scale(1.0 1)" font-size="8.5" text-anchor="middle" fill="#1a1a1a" font-weight="bold">S</text>
<text x="77.50" y="402.50" font-size="8.7" text-anchor="end" textLength="38.47" lengthAdjust="spacingAndGlyphs" stroke="#000" stroke-width="0.22" >Macaque</text>
<text x="92.60 100.70 106.90 112.80 120.40 126.20 132.90 139.70 146.60 152.60" y="402.50" font-size="8.5" text-anchor="middle" stroke="#000" stroke-width="0.1">LPGDPCILEF</text>
<rect x="90.90" y="394.90" width="6.00" height="9.60" fill="#f7a233" />
<text transform="translate(92.90 402.50) scale(1.0 1)" font-size="8.5" text-anchor="middle" fill="#1a1a1a" font-weight="bold">L</text>
<rect x="110.50" y="394.90" width="6.30" height="9.60" fill="#f7a233" />
<text transform="translate(112.80 402.50) scale(1.0 1)" font-size="8.5" text-anchor="middle" fill="#1a1a1a" font-weight="bold">D</text>
<text x="77.50" y="412.40" font-size="8.7" text-anchor="end" textLength="30.15" lengthAdjust="spacingAndGlyphs" stroke="#000" stroke-width="0.22" >Human</text>
<text x="92.60 100.70 106.90 112.80 120.40 126.20 132.90 139.70 146.60 152.60" y="412.40" font-size="8.5" text-anchor="middle" stroke="#000" stroke-width="0.1">LPGDPCILEF</text>
<rect x="90.90" y="404.80" width="6.00" height="9.60" fill="#f7a233" />
<text transform="translate(92.90 412.40) scale(1.0 1)" font-size="8.5" text-anchor="middle" fill="#1a1a1a" font-weight="bold">L</text>
<rect x="110.50" y="404.80" width="6.30" height="9.60" fill="#f7a233" />
<text transform="translate(112.80 412.40) scale(1.0 1)" font-size="8.5" text-anchor="middle" fill="#1a1a1a" font-weight="bold">D</text>
<text x="82.60" y="353.80" font-size="8.9" textLength="12.30" lengthAdjust="spacingAndGlyphs" stroke="#000" stroke-width="0.22" >127</text>
<text x="143.10" y="353.80" font-size="8.9" textLength="12.60" lengthAdjust="spacingAndGlyphs" stroke="#000" stroke-width="0.22" >136</text>
<path d="M90.89999999999999 422.3 L96.7 422.3 L93.8 417.6Z" fill="#000"/>
<text x="93.80" y="431.00" font-size="8.9" text-anchor="middle" textLength="12.90" lengthAdjust="spacingAndGlyphs" stroke="#000" stroke-width="0.22" >127</text>
<path d="M110.8 422.3 L116.60000000000001 422.3 L113.7 417.6Z" fill="#000"/>
<text x="113.70" y="431.00" font-size="8.9" text-anchor="middle" textLength="12.90" lengthAdjust="spacingAndGlyphs" stroke="#000" stroke-width="0.22" >130</text>
<text x="182.50" y="252.70" font-size="15.8" font-weight="bold" stroke="#000" stroke-width="0.4">f</text>
<text x="244.90" y="245.70" font-size="8.8" textLength="34.90" lengthAdjust="spacingAndGlyphs" stroke="#000" stroke-width="0.22" >Cell line:</text>
<text x="246.60" y="260.80" font-size="8.8" textLength="33.20" lengthAdjust="spacingAndGlyphs" stroke="#000" stroke-width="0.22" >PCDH1:</text>
<text x="431.80" y="241.90" font-size="8.8" textLength="73.00" lengthAdjust="spacingAndGlyphs" stroke="#000" stroke-width="0.22" >U2OS <tspan font-style="italic">PCDH1</tspan>-KO</text>
<line x1="293.00" y1="246.40" x2="660.00" y2="246.40" stroke="#8c8c8c" stroke-width="0.9" />
<rect x="296.50" y="250.60" width="5.80" height="5.80" fill="#fff" stroke="#666" stroke-width="0.8"/>
<rect x="297.60" y="260.70" width="3.80" height="3.80" fill="#e6e6e6" stroke="#333" stroke-width="0.9"/>
<text x="306.40" y="260.80" font-size="8.8" textLength="21.40" lengthAdjust="spacingAndGlyphs" stroke="#000" stroke-width="0.22" >None</text>
<rect x="357.90" y="250.60" width="5.80" height="5.80" fill="#98d986" stroke="#28b428" stroke-width="0.8"/>
<circle cx="360.70" cy="262.70" r="2.60" fill="#c9edc0" stroke="#28b428" stroke-width="1.0"/>
<text x="368.20" y="260.80" font-size="8.8" textLength="14.10" lengthAdjust="spacingAndGlyphs" stroke="#000" stroke-width="0.22" >WT</text>
<rect x="412.00" y="250.60" width="5.80" height="5.80" fill="#a17cf7" stroke="#6c38d2" stroke-width="0.8"/>
<path d="M414.90 260.12L417.65 265.30L412.15 265.30Z" fill="#cdbcfb" stroke="#6c38d2" stroke-width="1.0" stroke-linejoin="miter"/>
<text x="422.50" y="260.80" font-size="8.8" textLength="19.80" lengthAdjust="spacingAndGlyphs" stroke="#000" stroke-width="0.22" >F83L</text>
<rect x="472.50" y="250.60" width="5.80" height="5.80" fill="#f9a13a" stroke="#f7941d" stroke-width="0.8"/>
<path d="M475.40 265.27L478.15 260.10L472.65 260.10Z" fill="#fdc47e" stroke="#f4801f" stroke-width="1.0"/>
<text x="483.30" y="260.80" font-size="8.8" textLength="51.70" lengthAdjust="spacingAndGlyphs" stroke="#000" stroke-width="0.22" >L127I/D130N</text>
<rect x="566.70" y="250.60" width="5.80" height="5.80" fill="#dc5570" stroke="#cf2f4f" stroke-width="0.8"/>
<path d="M569.60 260.05L572.35 262.80L569.60 265.55L566.85 262.80Z" fill="#eea5b8" stroke="#cf2f4f" stroke-width="1.0"/>
<text x="577.00" y="260.80" font-size="8.8" textLength="76.00" lengthAdjust="spacingAndGlyphs" stroke="#000" stroke-width="0.22" >F83L/L127I/D130N</text>
<line x1="218.20" y1="278.00" x2="218.20" y2="428.00" stroke="#8c8c8c" stroke-width="0.8" />
<line x1="216.00" y1="427.50" x2="218.20" y2="427.50" stroke="#aaa" stroke-width="0.7" />
<text x="214.60" y="430.60" font-size="8.8" text-anchor="end" stroke="#000" stroke-width="0.22" >0</text>
<line x1="217.00" y1="416.07" x2="218.20" y2="416.07" stroke="#bbb" stroke-width="0.5" />
<line x1="216.00" y1="404.65" x2="218.20" y2="404.65" stroke="#aaa" stroke-width="0.7" />
<text x="214.60" y="407.75" font-size="8.8" text-anchor="end" stroke="#000" stroke-width="0.22" >20</text>
<line x1="217.00" y1="393.23" x2="218.20" y2="393.23" stroke="#bbb" stroke-width="0.5" />
<line x1="216.00" y1="381.80" x2="218.20" y2="381.80" stroke="#aaa" stroke-width="0.7" />
<text x="214.60" y="384.90" font-size="8.8" text-anchor="end" stroke="#000" stroke-width="0.22" >40</text>
<line x1="217.00" y1="370.38" x2="218.20" y2="370.38" stroke="#bbb" stroke-width="0.5" />
<line x1="216.00" y1="358.95" x2="218.20" y2="358.95" stroke="#aaa" stroke-width="0.7" />
<text x="214.60" y="362.05" font-size="8.8" text-anchor="end" stroke="#000" stroke-width="0.22" >60</text>
<line x1="217.00" y1="347.52" x2="218.20" y2="347.52" stroke="#bbb" stroke-width="0.5" />
<line x1="216.00" y1="336.10" x2="218.20" y2="336.10" stroke="#aaa" stroke-width="0.7" />
<text x="214.60" y="339.20" font-size="8.8" text-anchor="end" stroke="#000" stroke-width="0.22" >80</text>
<line x1="217.00" y1="324.68" x2="218.20" y2="324.68" stroke="#bbb" stroke-width="0.5" />
<line x1="216.00" y1="313.25" x2="218.20" y2="313.25" stroke="#aaa" stroke-width="0.7" />
<text x="214.60" y="316.35" font-size="8.8" text-anchor="end" stroke="#000" stroke-width="0.22" >100</text>
<line x1="217.00" y1="301.82" x2="218.20" y2="301.82" stroke="#bbb" stroke-width="0.5" />
<line x1="216.00" y1="290.40" x2="218.20" y2="290.40" stroke="#aaa" stroke-width="0.7" />
<text x="214.60" y="293.50" font-size="8.8" text-anchor="end" stroke="#000" stroke-width="0.22" >120</text>
<line x1="217.00" y1="278.98" x2="218.20" y2="278.98" stroke="#bbb" stroke-width="0.5" />
<text x="196.30" y="356.00" font-size="10.1" text-anchor="middle" textLength="96.00" lengthAdjust="spacingAndGlyphs" transform="rotate(-90 196.30 356.00)" stroke="#000" stroke-width="0.22" >Relative Infection (%)</text>
<text x="180.40" y="445.60" font-size="9.0" textLength="52.10" lengthAdjust="spacingAndGlyphs" stroke="#000" stroke-width="0.22" >rVSV-Gn/Gc:</text>
<rect x="228.40" y="414.10" width="8.10" height="13.30" fill="#fff" stroke="#000" stroke-width="0.8" />
<rect x="241.50" y="312.30" width="8.10" height="115.10" fill="#98d986" stroke="#28b428" stroke-width="0.8" />
<rect x="254.60" y="323.20" width="7.50" height="104.20" fill="#a17cf7" stroke="#6c38d2" stroke-width="0.8" />
<rect x="266.90" y="321.50" width="7.60" height="105.90" fill="#fdc47e" stroke="#f7941d" stroke-width="0.8" />
<rect x="279.50" y="320.50" width="7.50" height="106.90" fill="#e399ad" stroke="#cf2f4f" stroke-width="0.8" />
<line x1="228.00" y1="433.30" x2="287.40" y2="433.30" stroke="#8c8c8c" stroke-width="0.9" />
<text x="259.80" y="445.60" font-size="9.0" text-anchor="middle" stroke="#000" stroke-width="0.22" >ANDV</text>
<line x1="232.40" y1="404.60" x2="232.40" y2="423.00" stroke="#000" stroke-width="0.8" />
<line x1="230.60" y1="404.60" x2="234.20" y2="404.60" stroke="#000" stroke-width="0.8" />
<line x1="230.60" y1="423.00" x2="234.20" y2="423.00" stroke="#000" stroke-width="0.8" />
<rect x="229.80" y="402.80" width="3.60" height="3.60" fill="#fff" fill-opacity="0.75" stroke="#000" stroke-width="1.15"/>
<rect x="233.40" y="402.80" width="3.60" height="3.60" fill="#fff" fill-opacity="0.75" stroke="#000" stroke-width="1.15"/>
<rect x="230.60" y="412.20" width="3.60" height="3.60" fill="#fff" fill-opacity="0.75" stroke="#000" stroke-width="1.15"/>
<rect x="231.10" y="415.20" width="3.60" height="3.60" fill="#fff" fill-opacity="0.75" stroke="#000" stroke-width="1.15"/>
<rect x="230.30" y="418.20" width="3.60" height="3.60" fill="#fff" fill-opacity="0.75" stroke="#000" stroke-width="1.15"/>
<rect x="230.90" y="422.20" width="3.60" height="3.60" fill="#fff" fill-opacity="0.75" stroke="#000" stroke-width="1.15"/>
<circle cx="245.50" cy="305.30" r="2.30" fill="#98d986" fill-opacity="0.75" stroke="#28b428" stroke-width="1.15"/>
<circle cx="246.00" cy="310.00" r="2.30" fill="#98d986" fill-opacity="0.75" stroke="#28b428" stroke-width="1.15"/>
<circle cx="244.70" cy="312.50" r="2.30" fill="#98d986" fill-opacity="0.75" stroke="#28b428" stroke-width="1.15"/>
<circle cx="246.30" cy="315.00" r="2.30" fill="#98d986" fill-opacity="0.75" stroke="#28b428" stroke-width="1.15"/>
<circle cx="245.50" cy="317.00" r="2.30" fill="#98d986" fill-opacity="0.75" stroke="#28b428" stroke-width="1.15"/>
<circle cx="245.00" cy="319.50" r="2.30" fill="#98d986" fill-opacity="0.75" stroke="#28b428" stroke-width="1.15"/>
<circle cx="245.80" cy="322.00" r="2.30" fill="#98d986" fill-opacity="0.75" stroke="#28b428" stroke-width="1.15"/>
<line x1="258.30" y1="309.80" x2="258.30" y2="333.00" stroke="#6c38d2" stroke-width="0.8" />
<line x1="256.50" y1="309.80" x2="260.10" y2="309.80" stroke="#6c38d2" stroke-width="0.8" />
<line x1="256.50" y1="333.00" x2="260.10" y2="333.00" stroke="#6c38d2" stroke-width="0.8" />
<path d="M258.00 291.28L260.31 295.63L255.69 295.63Z" fill="#a17cf7" fill-opacity="0.75" stroke="#6c38d2" stroke-width="1.15" stroke-linejoin="miter"/>
<path d="M259.40 314.88L261.71 319.23L257.09 319.23Z" fill="#a17cf7" fill-opacity="0.75" stroke="#6c38d2" stroke-width="1.15" stroke-linejoin="miter"/>
<path d="M256.60 319.88L258.91 324.23L254.29 324.23Z" fill="#a17cf7" fill-opacity="0.75" stroke="#6c38d2" stroke-width="1.15" stroke-linejoin="miter"/>
<path d="M260.70 323.58L263.01 327.93L258.39 327.93Z" fill="#a17cf7" fill-opacity="0.75" stroke="#6c38d2" stroke-width="1.15" stroke-linejoin="miter"/>
<path d="M257.00 326.19L259.31 330.53L254.69 330.53Z" fill="#a17cf7" fill-opacity="0.75" stroke="#6c38d2" stroke-width="1.15" stroke-linejoin="miter"/>
<path d="M258.80 328.58L261.11 332.93L256.49 332.93Z" fill="#a17cf7" fill-opacity="0.75" stroke="#6c38d2" stroke-width="1.15" stroke-linejoin="miter"/>
<path d="M257.80 330.58L260.11 334.93L255.49 334.93Z" fill="#a17cf7" fill-opacity="0.75" stroke="#6c38d2" stroke-width="1.15" stroke-linejoin="miter"/>
<line x1="270.70" y1="312.00" x2="270.70" y2="330.00" stroke="#f7941d" stroke-width="0.8" />
<line x1="268.90" y1="312.00" x2="272.50" y2="312.00" stroke="#f7941d" stroke-width="0.8" />
<line x1="268.90" y1="330.00" x2="272.50" y2="330.00" stroke="#f7941d" stroke-width="0.8" />
<path d="M271.50 312.22L273.81 307.87L269.19 307.87Z" fill="#fdc47e" fill-opacity="0.75" stroke="#f7941d" stroke-width="1.15"/>
<path d="M269.70 316.12L272.01 311.77L267.39 311.77Z" fill="#fdc47e" fill-opacity="0.75" stroke="#f7941d" stroke-width="1.15"/>
<path d="M272.50 314.92L274.81 310.57L270.19 310.57Z" fill="#fdc47e" fill-opacity="0.75" stroke="#f7941d" stroke-width="1.15"/>
<path d="M270.20 324.42L272.51 320.07L267.89 320.07Z" fill="#fdc47e" fill-opacity="0.75" stroke="#f7941d" stroke-width="1.15"/>
<path d="M271.70 328.42L274.01 324.07L269.39 324.07Z" fill="#fdc47e" fill-opacity="0.75" stroke="#f7941d" stroke-width="1.15"/>
<path d="M269.70 330.42L272.01 326.07L267.39 326.07Z" fill="#fdc47e" fill-opacity="0.75" stroke="#f7941d" stroke-width="1.15"/>
<path d="M270.70 332.42L273.01 328.07L268.39 328.07Z" fill="#fdc47e" fill-opacity="0.75" stroke="#f7941d" stroke-width="1.15"/>
<line x1="283.30" y1="312.00" x2="283.30" y2="330.00" stroke="#cf2f4f" stroke-width="0.8" />
<line x1="281.50" y1="312.00" x2="285.10" y2="312.00" stroke="#cf2f4f" stroke-width="0.8" />
<line x1="281.50" y1="330.00" x2="285.10" y2="330.00" stroke="#cf2f4f" stroke-width="0.8" />
<path d="M282.70 309.23L285.07 311.60L282.70 313.98L280.32 311.60Z" fill="#e399ad" fill-opacity="0.75" stroke="#cf2f4f" stroke-width="1.15"/>
<path d="M284.00 313.62L286.38 316.00L284.00 318.38L281.62 316.00Z" fill="#e399ad" fill-opacity="0.75" stroke="#cf2f4f" stroke-width="1.15"/>
<path d="M282.20 317.32L284.57 319.70L282.20 322.07L279.82 319.70Z" fill="#e399ad" fill-opacity="0.75" stroke="#cf2f4f" stroke-width="1.15"/>
<path d="M283.50 319.93L285.88 322.30L283.50 324.68L281.12 322.30Z" fill="#e399ad" fill-opacity="0.75" stroke="#cf2f4f" stroke-width="1.15"/>
<path d="M284.10 323.62L286.48 326.00L284.10 328.38L281.73 326.00Z" fill="#e399ad" fill-opacity="0.75" stroke="#cf2f4f" stroke-width="1.15"/>
<path d="M283.00 329.82L285.38 332.20L283.00 334.57L280.62 332.20Z" fill="#e399ad" fill-opacity="0.75" stroke="#cf2f4f" stroke-width="1.15"/>
<rect x="300.90" y="415.50" width="7.50" height="11.90" fill="#fff" stroke="#000" stroke-width="0.8" />
<rect x="313.40" y="314.00" width="7.60" height="113.40" fill="#98d986" stroke="#28b428" stroke-width="0.8" />
<rect x="326.00" y="418.50" width="7.60" height="8.90" fill="#a17cf7" stroke="#6c38d2" stroke-width="0.8" />
<rect x="339.00" y="341.50" width="7.60" height="85.90" fill="#fdc47e" stroke="#f7941d" stroke-width="0.8" />
<rect x="351.20" y="413.30" width="7.40" height="14.10" fill="#e399ad" stroke="#cf2f4f" stroke-width="0.8" />
<line x1="300.50" y1="433.30" x2="359.00" y2="433.30" stroke="#8c8c8c" stroke-width="0.9" />
<text x="329.80" y="445.60" font-size="9.0" text-anchor="middle" stroke="#000" stroke-width="0.22" >SNV</text>
<line x1="304.60" y1="408.00" x2="304.60" y2="423.50" stroke="#000" stroke-width="0.8" />
<line x1="302.80" y1="408.00" x2="306.40" y2="408.00" stroke="#000" stroke-width="0.8" />
<line x1="302.80" y1="423.50" x2="306.40" y2="423.50" stroke="#000" stroke-width="0.8" />
<rect x="302.80" y="404.80" width="3.60" height="3.60" fill="#fff" fill-opacity="0.75" stroke="#000" stroke-width="1.15"/>
<rect x="303.80" y="408.20" width="3.60" height="3.60" fill="#fff" fill-opacity="0.75" stroke="#000" stroke-width="1.15"/>
<rect x="302.30" y="412.70" width="3.60" height="3.60" fill="#fff" fill-opacity="0.75" stroke="#000" stroke-width="1.15"/>
<rect x="303.30" y="416.20" width="3.60" height="3.60" fill="#fff" fill-opacity="0.75" stroke="#000" stroke-width="1.15"/>
<rect x="302.50" y="419.20" width="3.60" height="3.60" fill="#fff" fill-opacity="0.75" stroke="#000" stroke-width="1.15"/>
<rect x="302.80" y="422.70" width="3.60" height="3.60" fill="#fff" fill-opacity="0.75" stroke="#000" stroke-width="1.15"/>
<circle cx="317.00" cy="302.30" r="2.30" fill="#98d986" fill-opacity="0.75" stroke="#28b428" stroke-width="1.15"/>
<circle cx="317.40" cy="309.80" r="2.30" fill="#98d986" fill-opacity="0.75" stroke="#28b428" stroke-width="1.15"/>
<circle cx="316.20" cy="312.00" r="2.30" fill="#98d986" fill-opacity="0.75" stroke="#28b428" stroke-width="1.15"/>
<circle cx="317.90" cy="314.00" r="2.30" fill="#98d986" fill-opacity="0.75" stroke="#28b428" stroke-width="1.15"/>
<circle cx="316.60" cy="316.00" r="2.30" fill="#98d986" fill-opacity="0.75" stroke="#28b428" stroke-width="1.15"/>
<circle cx="317.60" cy="318.00" r="2.30" fill="#98d986" fill-opacity="0.75" stroke="#28b428" stroke-width="1.15"/>
<circle cx="316.10" cy="319.50" r="2.30" fill="#98d986" fill-opacity="0.75" stroke="#28b428" stroke-width="1.15"/>
<path d="M329.80 411.58L332.11 415.93L327.49 415.93Z" fill="#a17cf7" fill-opacity="0.75" stroke="#6c38d2" stroke-width="1.15" stroke-linejoin="miter"/>
<path d="M328.60 414.08L330.91 418.43L326.29 418.43Z" fill="#a17cf7" fill-opacity="0.75" stroke="#6c38d2" stroke-width="1.15" stroke-linejoin="miter"/>
<path d="M331.00 416.08L333.31 420.43L328.69 420.43Z" fill="#a17cf7" fill-opacity="0.75" stroke="#6c38d2" stroke-width="1.15" stroke-linejoin="miter"/>
<path d="M329.20 418.08L331.51 422.43L326.89 422.43Z" fill="#a17cf7" fill-opacity="0.75" stroke="#6c38d2" stroke-width="1.15" stroke-linejoin="miter"/>
<path d="M330.60 420.08L332.91 424.43L328.29 424.43Z" fill="#a17cf7" fill-opacity="0.75" stroke="#6c38d2" stroke-width="1.15" stroke-linejoin="miter"/>
<path d="M329.80 421.58L332.11 425.93L327.49 425.93Z" fill="#a17cf7" fill-opacity="0.75" stroke="#6c38d2" stroke-width="1.15" stroke-linejoin="miter"/>
<line x1="342.50" y1="318.00" x2="342.50" y2="360.00" stroke="#f7941d" stroke-width="0.8" />
<line x1="340.70" y1="318.00" x2="344.30" y2="318.00" stroke="#f7941d" stroke-width="0.8" />
<line x1="340.70" y1="360.00" x2="344.30" y2="360.00" stroke="#f7941d" stroke-width="0.8" />
<path d="M342.50 309.52L344.81 305.17L340.19 305.17Z" fill="#fdc47e" fill-opacity="0.75" stroke="#f7941d" stroke-width="1.15"/>
<path d="M342.50 320.62L344.81 316.27L340.19 316.27Z" fill="#fdc47e" fill-opacity="0.75" stroke="#f7941d" stroke-width="1.15"/>
<path d="M342.50 331.02L344.81 326.67L340.19 326.67Z" fill="#fdc47e" fill-opacity="0.75" stroke="#f7941d" stroke-width="1.15"/>
<path d="M341.70 345.92L344.01 341.57L339.39 341.57Z" fill="#fdc47e" fill-opacity="0.75" stroke="#f7941d" stroke-width="1.15"/>
<path d="M343.70 348.42L346.01 344.07L341.39 344.07Z" fill="#fdc47e" fill-opacity="0.75" stroke="#f7941d" stroke-width="1.15"/>
<path d="M341.30 350.92L343.61 346.57L338.99 346.57Z" fill="#fdc47e" fill-opacity="0.75" stroke="#f7941d" stroke-width="1.15"/>
<path d="M343.30 353.42L345.61 349.07L340.99 349.07Z" fill="#fdc47e" fill-opacity="0.75" stroke="#f7941d" stroke-width="1.15"/>
<path d="M342.10 356.42L344.41 352.07L339.79 352.07Z" fill="#fdc47e" fill-opacity="0.75" stroke="#f7941d" stroke-width="1.15"/>
<path d="M342.90 359.42L345.21 355.07L340.59 355.07Z" fill="#fdc47e" fill-opacity="0.75" stroke="#f7941d" stroke-width="1.15"/>
<path d="M355.00 410.12L357.38 412.50L355.00 414.88L352.62 412.50Z" fill="#e399ad" fill-opacity="0.75" stroke="#cf2f4f" stroke-width="1.15"/>
<path d="M354.00 412.12L356.38 414.50L354.00 416.88L351.62 414.50Z" fill="#e399ad" fill-opacity="0.75" stroke="#cf2f4f" stroke-width="1.15"/>
<path d="M356.00 414.12L358.38 416.50L356.00 418.88L353.62 416.50Z" fill="#e399ad" fill-opacity="0.75" stroke="#cf2f4f" stroke-width="1.15"/>
<path d="M354.50 416.62L356.88 419.00L354.50 421.38L352.12 419.00Z" fill="#e399ad" fill-opacity="0.75" stroke="#cf2f4f" stroke-width="1.15"/>
<path d="M355.40 419.12L357.77 421.50L355.40 423.88L353.02 421.50Z" fill="#e399ad" fill-opacity="0.75" stroke="#cf2f4f" stroke-width="1.15"/>
<rect x="372.80" y="336.50" width="7.50" height="90.90" fill="#fff" stroke="#000" stroke-width="0.8" />
<rect x="384.80" y="312.50" width="8.10" height="114.90" fill="#98d986" stroke="#28b428" stroke-width="0.8" />
<rect x="397.40" y="346.00" width="8.20" height="81.40" fill="#a17cf7" stroke="#6c38d2" stroke-width="0.8" />
<rect x="410.40" y="349.50" width="7.70" height="77.90" fill="#fdc47e" stroke="#f7941d" stroke-width="0.8" />
<rect x="423.00" y="331.30" width="7.60" height="96.10" fill="#e399ad" stroke="#cf2f4f" stroke-width="0.8" />
<line x1="372.40" y1="433.30" x2="431.00" y2="433.30" stroke="#8c8c8c" stroke-width="0.9" />
<text x="401.60" y="445.60" font-size="9.0" text-anchor="middle" stroke="#000" stroke-width="0.22" >HTNV</text>
<line x1="376.50" y1="319.00" x2="376.50" y2="352.00" stroke="#000" stroke-width="0.8" />
<line x1="374.70" y1="319.00" x2="378.30" y2="319.00" stroke="#000" stroke-width="0.8" />
<line x1="374.70" y1="352.00" x2="378.30" y2="352.00" stroke="#000" stroke-width="0.8" />
<rect x="374.80" y="308.00" width="3.60" height="3.60" fill="#fff" fill-opacity="0.75" stroke="#000" stroke-width="1.15"/>
<rect x="375.00" y="325.70" width="3.60" height="3.60" fill="#fff" fill-opacity="0.75" stroke="#000" stroke-width="1.15"/>
<rect x="373.90" y="328.60" width="3.60" height="3.60" fill="#fff" fill-opacity="0.75" stroke="#000" stroke-width="1.15"/>
<rect x="375.50" y="330.70" width="3.60" height="3.60" fill="#fff" fill-opacity="0.75" stroke="#000" stroke-width="1.15"/>
<rect x="374.70" y="334.20" width="3.60" height="3.60" fill="#fff" fill-opacity="0.75" stroke="#000" stroke-width="1.15"/>
<rect x="375.10" y="340.70" width="3.60" height="3.60" fill="#fff" fill-opacity="0.75" stroke="#000" stroke-width="1.15"/>
<rect x="375.30" y="354.70" width="3.60" height="3.60" fill="#fff" fill-opacity="0.75" stroke="#000" stroke-width="1.15"/>
<rect x="373.90" y="358.70" width="3.60" height="3.60" fill="#fff" fill-opacity="0.75" stroke="#000" stroke-width="1.15"/>
<circle cx="388.80" cy="305.30" r="2.30" fill="#98d986" fill-opacity="0.75" stroke="#28b428" stroke-width="1.15"/>
<circle cx="388.30" cy="309.80" r="2.30" fill="#98d986" fill-opacity="0.75" stroke="#28b428" stroke-width="1.15"/>
<circle cx="389.30" cy="313.00" r="2.30" fill="#98d986" fill-opacity="0.75" stroke="#28b428" stroke-width="1.15"/>
<circle cx="388.80" cy="316.00" r="2.30" fill="#98d986" fill-opacity="0.75" stroke="#28b428" stroke-width="1.15"/>
<circle cx="387.20" cy="318.40" r="2.30" fill="#98d986" fill-opacity="0.75" stroke="#28b428" stroke-width="1.15"/>
<circle cx="390.40" cy="318.40" r="2.30" fill="#98d986" fill-opacity="0.75" stroke="#28b428" stroke-width="1.15"/>
<line x1="401.50" y1="322.00" x2="401.50" y2="360.00" stroke="#6c38d2" stroke-width="0.8" />
<line x1="399.70" y1="322.00" x2="403.30" y2="322.00" stroke="#6c38d2" stroke-width="0.8" />
<line x1="399.70" y1="360.00" x2="403.30" y2="360.00" stroke="#6c38d2" stroke-width="0.8" />
<path d="M401.70 303.78L404.01 308.13L399.39 308.13Z" fill="#a17cf7" fill-opacity="0.75" stroke="#6c38d2" stroke-width="1.15" stroke-linejoin="miter"/>
<path d="M401.40 320.78L403.71 325.13L399.09 325.13Z" fill="#a17cf7" fill-opacity="0.75" stroke="#6c38d2" stroke-width="1.15" stroke-linejoin="miter"/>
<path d="M401.40 330.69L403.71 335.03L399.09 335.03Z" fill="#a17cf7" fill-opacity="0.75" stroke="#6c38d2" stroke-width="1.15" stroke-linejoin="miter"/>
<path d="M401.50 350.58L403.81 354.93L399.19 354.93Z" fill="#a17cf7" fill-opacity="0.75" stroke="#6c38d2" stroke-width="1.15" stroke-linejoin="miter"/>
<path d="M402.70 354.58L405.01 358.93L400.39 358.93Z" fill="#a17cf7" fill-opacity="0.75" stroke="#6c38d2" stroke-width="1.15" stroke-linejoin="miter"/>
<path d="M400.30 357.08L402.61 361.43L397.99 361.43Z" fill="#a17cf7" fill-opacity="0.75" stroke="#6c38d2" stroke-width="1.15" stroke-linejoin="miter"/>
<path d="M402.10 360.58L404.41 364.93L399.79 364.93Z" fill="#a17cf7" fill-opacity="0.75" stroke="#6c38d2" stroke-width="1.15" stroke-linejoin="miter"/>
<line x1="414.00" y1="330.40" x2="414.00" y2="366.00" stroke="#f7941d" stroke-width="0.8" />
<line x1="412.20" y1="330.40" x2="415.80" y2="330.40" stroke="#f7941d" stroke-width="0.8" />
<line x1="412.20" y1="366.00" x2="415.80" y2="366.00" stroke="#f7941d" stroke-width="0.8" />
<path d="M412.50 327.42L414.81 323.07L410.19 323.07Z" fill="#fdc47e" fill-opacity="0.75" stroke="#f7941d" stroke-width="1.15"/>
<path d="M415.20 327.42L417.51 323.07L412.89 323.07Z" fill="#fdc47e" fill-opacity="0.75" stroke="#f7941d" stroke-width="1.15"/>
<path d="M413.70 330.12L416.01 325.77L411.39 325.77Z" fill="#fdc47e" fill-opacity="0.75" stroke="#f7941d" stroke-width="1.15"/>
<path d="M413.70 353.92L416.01 349.57L411.39 349.57Z" fill="#fdc47e" fill-opacity="0.75" stroke="#f7941d" stroke-width="1.15"/>
<path d="M415.00 356.42L417.31 352.07L412.69 352.07Z" fill="#fdc47e" fill-opacity="0.75" stroke="#f7941d" stroke-width="1.15"/>
<path d="M413.00 359.92L415.31 355.57L410.69 355.57Z" fill="#fdc47e" fill-opacity="0.75" stroke="#f7941d" stroke-width="1.15"/>
<path d="M414.60 362.42L416.91 358.07L412.29 358.07Z" fill="#fdc47e" fill-opacity="0.75" stroke="#f7941d" stroke-width="1.15"/>
<path d="M413.40 365.42L415.71 361.07L411.09 361.07Z" fill="#fdc47e" fill-opacity="0.75" stroke="#f7941d" stroke-width="1.15"/>
<path d="M414.00 368.42L416.31 364.07L411.69 364.07Z" fill="#fdc47e" fill-opacity="0.75" stroke="#f7941d" stroke-width="1.15"/>
<line x1="426.80" y1="303.20" x2="426.80" y2="356.00" stroke="#cf2f4f" stroke-width="0.8" />
<line x1="425.00" y1="303.20" x2="428.60" y2="303.20" stroke="#cf2f4f" stroke-width="0.8" />
<line x1="425.00" y1="356.00" x2="428.60" y2="356.00" stroke="#cf2f4f" stroke-width="0.8" />
<path d="M426.80 287.73L429.18 290.10L426.80 292.48L424.43 290.10Z" fill="#e399ad" fill-opacity="0.75" stroke="#cf2f4f" stroke-width="1.15"/>
<path d="M426.80 300.82L429.18 303.20L426.80 305.57L424.43 303.20Z" fill="#e399ad" fill-opacity="0.75" stroke="#cf2f4f" stroke-width="1.15"/>
<path d="M426.80 308.32L429.18 310.70L426.80 313.07L424.43 310.70Z" fill="#e399ad" fill-opacity="0.75" stroke="#cf2f4f" stroke-width="1.15"/>
<path d="M427.20 341.62L429.57 344.00L427.20 346.38L424.82 344.00Z" fill="#e399ad" fill-opacity="0.75" stroke="#cf2f4f" stroke-width="1.15"/>
<path d="M426.20 344.62L428.57 347.00L426.20 349.38L423.82 347.00Z" fill="#e399ad" fill-opacity="0.75" stroke="#cf2f4f" stroke-width="1.15"/>
<path d="M428.10 347.12L430.48 349.50L428.10 351.88L425.73 349.50Z" fill="#e399ad" fill-opacity="0.75" stroke="#cf2f4f" stroke-width="1.15"/>
<path d="M426.40 352.12L428.78 354.50L426.40 356.88L424.03 354.50Z" fill="#e399ad" fill-opacity="0.75" stroke="#cf2f4f" stroke-width="1.15"/>
<path d="M427.40 353.62L429.78 356.00L427.40 358.38L425.03 356.00Z" fill="#e399ad" fill-opacity="0.75" stroke="#cf2f4f" stroke-width="1.15"/>
<text x="246.60" y="277.40" font-size="9.6" textLength="9.40" lengthAdjust="spacingAndGlyphs" stroke="#000" stroke-width="0.22" >ns</text>
<line x1="244.00" y1="279.00" x2="258.80" y2="279.00" stroke="#666" stroke-width="1.0" />
<line x1="243.60" y1="281.60" x2="270.50" y2="281.60" stroke="#3a3a3a" stroke-width="1.0" />
<line x1="243.60" y1="284.40" x2="283.60" y2="284.40" stroke="#3a3a3a" stroke-width="1.0" />
<text x="219.70" y="294.90" font-size="8.3" textLength="35.00" lengthAdjust="spacingAndGlyphs" stroke="#000" stroke-width="0.22" >p &lt; 0.0001</text>
<line x1="231.60" y1="297.00" x2="244.00" y2="297.00" stroke="#4a4a4a" stroke-width="0.9" />
<text x="312.40" y="276.50" font-size="8.3" textLength="35.30" lengthAdjust="spacingAndGlyphs" stroke="#000" stroke-width="0.22" >p &lt; 0.0001</text>
<line x1="315.00" y1="279.00" x2="330.30" y2="279.00" stroke="#666" stroke-width="1.0" />
<line x1="315.00" y1="281.60" x2="342.90" y2="281.60" stroke="#3a3a3a" stroke-width="1.0" />
<line x1="315.00" y1="284.40" x2="355.40" y2="284.40" stroke="#3a3a3a" stroke-width="1.0" />
<text x="291.80" y="294.20" font-size="8.3" textLength="34.90" lengthAdjust="spacingAndGlyphs" stroke="#000" stroke-width="0.22" >p &lt; 0.0001</text>
<line x1="302.50" y1="295.90" x2="316.00" y2="295.90" stroke="#4a4a4a" stroke-width="0.9" />
<text x="388.80" y="274.10" font-size="9.6" textLength="9.40" lengthAdjust="spacingAndGlyphs" stroke="#000" stroke-width="0.22" >ns</text>
<line x1="386.10" y1="275.50" x2="425.90" y2="275.50" stroke="#4a4a4a" stroke-width="0.9" />
<text x="388.30" y="285.80" font-size="10.5" textLength="9.00" lengthAdjust="spacingAndGlyphs" stroke="#000" stroke-width="0.22" >**</text>
<line x1="386.10" y1="284.20" x2="400.80" y2="284.20" stroke="#4a4a4a" stroke-width="0.9" />
<line x1="386.10" y1="286.50" x2="413.00" y2="286.50" stroke="#4a4a4a" stroke-width="0.9" />
<text x="376.60" y="295.10" font-size="9.6" textLength="9.70" lengthAdjust="spacingAndGlyphs" stroke="#000" stroke-width="0.22" >ns</text>
<line x1="374.30" y1="296.90" x2="388.00" y2="296.90" stroke="#4a4a4a" stroke-width="0.9" />
<line x1="485.90" y1="281.00" x2="485.90" y2="428.00" stroke="#8c8c8c" stroke-width="0.8" />
<line x1="483.70" y1="427.40" x2="485.90" y2="427.40" stroke="#aaa" stroke-width="0.7" />
<text x="482.10" y="429.90" font-size="8.8" text-anchor="end" stroke="#000" stroke-width="0.22" >0</text>
<line x1="484.70" y1="416.95" x2="485.90" y2="416.95" stroke="#bbb" stroke-width="0.5" />
<line x1="483.70" y1="406.51" x2="485.90" y2="406.51" stroke="#aaa" stroke-width="0.7" />
<text x="482.10" y="409.01" font-size="8.8" text-anchor="end" stroke="#000" stroke-width="0.22" >20</text>
<line x1="484.70" y1="396.06" x2="485.90" y2="396.06" stroke="#bbb" stroke-width="0.5" />
<line x1="483.70" y1="385.62" x2="485.90" y2="385.62" stroke="#aaa" stroke-width="0.7" />
<text x="482.10" y="388.12" font-size="8.8" text-anchor="end" stroke="#000" stroke-width="0.22" >40</text>
<line x1="484.70" y1="375.17" x2="485.90" y2="375.17" stroke="#bbb" stroke-width="0.5" />
<line x1="483.70" y1="364.73" x2="485.90" y2="364.73" stroke="#aaa" stroke-width="0.7" />
<text x="482.10" y="367.23" font-size="8.8" text-anchor="end" stroke="#000" stroke-width="0.22" >60</text>
<line x1="484.70" y1="354.28" x2="485.90" y2="354.28" stroke="#bbb" stroke-width="0.5" />
<line x1="483.70" y1="343.84" x2="485.90" y2="343.84" stroke="#aaa" stroke-width="0.7" />
<text x="482.10" y="346.34" font-size="8.8" text-anchor="end" stroke="#000" stroke-width="0.22" >80</text>
<line x1="484.70" y1="333.39" x2="485.90" y2="333.39" stroke="#bbb" stroke-width="0.5" />
<line x1="483.70" y1="322.95" x2="485.90" y2="322.95" stroke="#aaa" stroke-width="0.7" />
<text x="482.10" y="325.45" font-size="8.8" text-anchor="end" stroke="#000" stroke-width="0.22" >100</text>
<line x1="484.70" y1="312.50" x2="485.90" y2="312.50" stroke="#bbb" stroke-width="0.5" />
<line x1="483.70" y1="302.06" x2="485.90" y2="302.06" stroke="#aaa" stroke-width="0.7" />
<text x="482.10" y="304.56" font-size="8.8" text-anchor="end" stroke="#000" stroke-width="0.22" >120</text>
<line x1="484.70" y1="291.62" x2="485.90" y2="291.62" stroke="#bbb" stroke-width="0.5" />
<line x1="483.70" y1="281.17" x2="485.90" y2="281.17" stroke="#aaa" stroke-width="0.7" />
<text x="482.10" y="283.67" font-size="8.8" text-anchor="end" stroke="#000" stroke-width="0.22" >140</text>
<text x="463.50" y="356.00" font-size="10.1" text-anchor="middle" textLength="96.00" lengthAdjust="spacingAndGlyphs" transform="rotate(-90 463.50 356.00)" stroke="#000" stroke-width="0.22" >Relative Infection (%)</text>
<text x="451.80" y="445.60" font-size="9.0" textLength="43.50" lengthAdjust="spacingAndGlyphs" stroke="#000" stroke-width="0.22" >hantavirus:</text>
<rect x="493.10" y="422.00" width="8.80" height="5.40" fill="#d9d9d9" />
<rect x="505.60" y="326.00" width="8.40" height="101.40" fill="#d9d9d9" />
<rect x="518.00" y="299.00" width="8.60" height="128.40" fill="#d9d9d9" />
<rect x="530.70" y="313.00" width="8.40" height="114.40" fill="#d9d9d9" />
<rect x="543.10" y="284.70" width="8.60" height="142.70" fill="#d9d9d9" />
<rect x="560.00" y="426.40" width="8.00" height="1.00" fill="#d9d9d9" />
<rect x="572.20" y="322.70" width="8.30" height="104.70" fill="#d9d9d9" />
<rect x="584.50" y="421.80" width="8.50" height="5.60" fill="#d9d9d9" />
<rect x="597.10" y="342.00" width="8.30" height="85.40" fill="#d9d9d9" />
<rect x="609.50" y="415.50" width="8.30" height="11.90" fill="#d9d9d9" />
<rect x="626.60" y="329.90" width="8.20" height="97.50" fill="#d9d9d9" />
<rect x="639.10" y="322.70" width="8.60" height="104.70" fill="#d9d9d9" />
<rect x="651.80" y="333.50" width="8.50" height="93.90" fill="#d9d9d9" />
<rect x="664.20" y="334.50" width="8.30" height="92.90" fill="#d9d9d9" />
<rect x="676.40" y="337.60" width="8.60" height="89.80" fill="#d9d9d9" />
<line x1="493.10" y1="432.20" x2="551.50" y2="432.20" stroke="#8c8c8c" stroke-width="0.9" />
<text x="525.00" y="445.60" font-size="9.0" text-anchor="middle" stroke="#000" stroke-width="0.22" >ANDV</text>
<line x1="559.80" y1="432.20" x2="617.80" y2="432.20" stroke="#8c8c8c" stroke-width="0.9" />
<text x="589.00" y="445.60" font-size="9.0" text-anchor="middle" stroke="#000" stroke-width="0.22" >SNV</text>
<line x1="626.60" y1="432.20" x2="685.00" y2="432.20" stroke="#8c8c8c" stroke-width="0.9" />
<text x="655.40" y="445.60" font-size="9.0" text-anchor="middle" stroke="#000" stroke-width="0.22" >HTNV</text>
<rect x="494.10" y="420.20" width="3.60" height="3.60" fill="#fff" fill-opacity="0.7" stroke="#000" stroke-width="1.15"/>
<rect x="496.70" y="419.70" width="3.60" height="3.60" fill="#fff" fill-opacity="0.7" stroke="#000" stroke-width="1.15"/>
<circle cx="510.10" cy="319.70" r="2.30" fill="#98d986" fill-opacity="0.7" stroke="#28b428" stroke-width="1.15"/>
<circle cx="507.80" cy="324.10" r="2.30" fill="#98d986" fill-opacity="0.7" stroke="#28b428" stroke-width="1.15"/>
<circle cx="511.90" cy="322.70" r="2.30" fill="#98d986" fill-opacity="0.7" stroke="#28b428" stroke-width="1.15"/>
<path d="M521.60 294.19L523.91 298.53L519.29 298.53Z" fill="#a17cf7" fill-opacity="0.8" stroke="#6c38d2" stroke-width="1.15" stroke-linejoin="miter"/>
<path d="M523.40 294.19L525.71 298.53L521.09 298.53Z" fill="#a17cf7" fill-opacity="0.8" stroke="#6c38d2" stroke-width="1.15" stroke-linejoin="miter"/>
<path d="M522.50 293.19L524.81 297.53L520.19 297.53Z" fill="#a17cf7" fill-opacity="0.8" stroke="#6c38d2" stroke-width="1.15" stroke-linejoin="miter"/>
<line x1="534.70" y1="308.90" x2="534.70" y2="321.50" stroke="#f7941d" stroke-width="0.8" />
<line x1="534.70" y1="308.90" x2="534.70" y2="308.90" stroke="#f7941d" stroke-width="0.8" />
<line x1="534.70" y1="321.50" x2="534.70" y2="321.50" stroke="#f7941d" stroke-width="0.8" />
<path d="M533.40 311.31L535.71 306.97L531.09 306.97Z" fill="#fdc47e" fill-opacity="0.7" stroke="#f7941d" stroke-width="1.15"/>
<path d="M536.30 311.31L538.61 306.97L533.99 306.97Z" fill="#fdc47e" fill-opacity="0.7" stroke="#f7941d" stroke-width="1.15"/>
<path d="M534.70 323.72L537.01 319.37L532.39 319.37Z" fill="#fdc47e" fill-opacity="0.7" stroke="#f7941d" stroke-width="1.15"/>
<path d="M545.50 280.52L547.88 282.90L545.50 285.27L543.12 282.90Z" fill="#e399ad" fill-opacity="0.7" stroke="#cf2f4f" stroke-width="1.15"/>
<path d="M549.00 280.52L551.38 282.90L549.00 285.27L546.62 282.90Z" fill="#e399ad" fill-opacity="0.7" stroke="#cf2f4f" stroke-width="1.15"/>
<path d="M547.20 285.93L549.58 288.30L547.20 290.68L544.83 288.30Z" fill="#e399ad" fill-opacity="0.7" stroke="#cf2f4f" stroke-width="1.15"/>
<rect x="560.60" y="425.20" width="3.60" height="3.60" fill="#fff" fill-opacity="0.7" stroke="#000" stroke-width="1.15"/>
<rect x="563.70" y="424.80" width="3.60" height="3.60" fill="#fff" fill-opacity="0.7" stroke="#000" stroke-width="1.15"/>
<line x1="576.50" y1="316.50" x2="576.50" y2="331.00" stroke="#28b428" stroke-width="0.8" />
<line x1="574.90" y1="316.50" x2="578.10" y2="316.50" stroke="#28b428" stroke-width="0.8" />
<line x1="574.90" y1="331.00" x2="578.10" y2="331.00" stroke="#28b428" stroke-width="0.8" />
<circle cx="575.00" cy="317.50" r="2.30" fill="#98d986" fill-opacity="0.7" stroke="#28b428" stroke-width="1.15"/>
<circle cx="578.20" cy="319.70" r="2.30" fill="#98d986" fill-opacity="0.7" stroke="#28b428" stroke-width="1.15"/>
<circle cx="576.40" cy="330.80" r="2.30" fill="#98d986" fill-opacity="0.7" stroke="#28b428" stroke-width="1.15"/>
<path d="M587.40 414.78L589.71 419.13L585.09 419.13Z" fill="#a17cf7" fill-opacity="0.7" stroke="#6c38d2" stroke-width="1.15" stroke-linejoin="miter"/>
<path d="M590.20 417.19L592.51 421.53L587.89 421.53Z" fill="#a17cf7" fill-opacity="0.7" stroke="#6c38d2" stroke-width="1.15" stroke-linejoin="miter"/>
<path d="M587.90 419.58L590.21 423.93L585.59 423.93Z" fill="#a17cf7" fill-opacity="0.7" stroke="#6c38d2" stroke-width="1.15" stroke-linejoin="miter"/>
<path d="M602.20 341.81L604.51 337.47L599.89 337.47Z" fill="#fdc47e" fill-opacity="0.7" stroke="#f7941d" stroke-width="1.15"/>
<path d="M600.20 345.02L602.51 340.67L597.89 340.67Z" fill="#fdc47e" fill-opacity="0.7" stroke="#f7941d" stroke-width="1.15"/>
<path d="M603.20 343.92L605.51 339.57L600.89 339.57Z" fill="#fdc47e" fill-opacity="0.7" stroke="#f7941d" stroke-width="1.15"/>
<line x1="613.50" y1="409.40" x2="613.50" y2="419.60" stroke="#cf2f4f" stroke-width="0.8" />
<line x1="613.50" y1="409.40" x2="613.50" y2="409.40" stroke="#cf2f4f" stroke-width="0.8" />
<line x1="613.50" y1="419.60" x2="613.50" y2="419.60" stroke="#cf2f4f" stroke-width="0.8" />
<path d="M613.50 407.02L615.88 409.40L613.50 411.77L611.12 409.40Z" fill="#e399ad" fill-opacity="0.7" stroke="#cf2f4f" stroke-width="1.15"/>
<path d="M615.40 413.62L617.77 416.00L615.40 418.38L613.02 416.00Z" fill="#e399ad" fill-opacity="0.7" stroke="#cf2f4f" stroke-width="1.15"/>
<path d="M612.30 417.23L614.67 419.60L612.30 421.98L609.92 419.60Z" fill="#e399ad" fill-opacity="0.7" stroke="#cf2f4f" stroke-width="1.15"/>
<line x1="630.70" y1="306.50" x2="630.70" y2="352.00" stroke="#000" stroke-width="0.8" />
<line x1="630.70" y1="306.50" x2="630.70" y2="306.50" stroke="#000" stroke-width="0.8" />
<line x1="630.70" y1="352.00" x2="630.70" y2="352.00" stroke="#000" stroke-width="0.8" />
<rect x="630.20" y="304.40" width="3.60" height="3.60" fill="#fff" fill-opacity="0.7" stroke="#000" stroke-width="1.15"/>
<rect x="627.60" y="308.00" width="3.60" height="3.60" fill="#fff" fill-opacity="0.7" stroke="#000" stroke-width="1.15"/>
<rect x="630.70" y="310.20" width="3.60" height="3.60" fill="#fff" fill-opacity="0.7" stroke="#000" stroke-width="1.15"/>
<rect x="628.90" y="313.70" width="3.60" height="3.60" fill="#fff" fill-opacity="0.7" stroke="#000" stroke-width="1.15"/>
<rect x="628.90" y="322.00" width="3.60" height="3.60" fill="#fff" fill-opacity="0.7" stroke="#000" stroke-width="1.15"/>
<rect x="629.00" y="349.60" width="3.60" height="3.60" fill="#fff" fill-opacity="0.7" stroke="#000" stroke-width="1.15"/>
<rect x="627.20" y="356.70" width="3.60" height="3.60" fill="#fff" fill-opacity="0.7" stroke="#000" stroke-width="1.15"/>
<rect x="630.70" y="355.50" width="3.60" height="3.60" fill="#fff" fill-opacity="0.7" stroke="#000" stroke-width="1.15"/>
<line x1="643.20" y1="309.00" x2="643.20" y2="337.00" stroke="#28b428" stroke-width="0.8" />
<line x1="641.60" y1="309.00" x2="644.80" y2="309.00" stroke="#28b428" stroke-width="0.8" />
<line x1="641.60" y1="337.00" x2="644.80" y2="337.00" stroke="#28b428" stroke-width="0.8" />
<circle cx="643.20" cy="303.50" r="2.30" fill="#98d986" fill-opacity="0.7" stroke="#28b428" stroke-width="1.15"/>
<circle cx="643.00" cy="309.80" r="2.30" fill="#98d986" fill-opacity="0.7" stroke="#28b428" stroke-width="1.15"/>
<circle cx="643.20" cy="313.70" r="2.30" fill="#98d986" fill-opacity="0.7" stroke="#28b428" stroke-width="1.15"/>
<circle cx="641.50" cy="317.30" r="2.30" fill="#98d986" fill-opacity="0.7" stroke="#28b428" stroke-width="1.15"/>
<circle cx="645.60" cy="316.60" r="2.30" fill="#98d986" fill-opacity="0.7" stroke="#28b428" stroke-width="1.15"/>
<circle cx="643.20" cy="327.70" r="2.30" fill="#98d986" fill-opacity="0.7" stroke="#28b428" stroke-width="1.15"/>
<circle cx="643.20" cy="341.70" r="2.30" fill="#98d986" fill-opacity="0.7" stroke="#28b428" stroke-width="1.15"/>
<circle cx="642.70" cy="350.70" r="2.30" fill="#98d986" fill-opacity="0.7" stroke="#28b428" stroke-width="1.15"/>
<line x1="655.80" y1="311.00" x2="655.80" y2="357.00" stroke="#6c38d2" stroke-width="0.8" />
<line x1="655.80" y1="311.00" x2="655.80" y2="311.00" stroke="#6c38d2" stroke-width="0.8" />
<line x1="655.80" y1="357.00" x2="655.80" y2="357.00" stroke="#6c38d2" stroke-width="0.8" />
<path d="M655.80 308.78L658.11 313.13L653.49 313.13Z" fill="#a17cf7" fill-opacity="0.8" stroke="#6c38d2" stroke-width="1.15" stroke-linejoin="miter"/>
<path d="M655.20 309.78L657.51 314.13L652.89 314.13Z" fill="#a17cf7" fill-opacity="0.8" stroke="#6c38d2" stroke-width="1.15" stroke-linejoin="miter"/>
<path d="M656.40 309.78L658.71 314.13L654.09 314.13Z" fill="#a17cf7" fill-opacity="0.8" stroke="#6c38d2" stroke-width="1.15" stroke-linejoin="miter"/>
<path d="M656.30 313.58L658.61 317.93L653.99 317.93Z" fill="#a17cf7" fill-opacity="0.8" stroke="#6c38d2" stroke-width="1.15" stroke-linejoin="miter"/>
<path d="M655.50 348.28L657.81 352.63L653.19 352.63Z" fill="#a17cf7" fill-opacity="0.8" stroke="#6c38d2" stroke-width="1.15" stroke-linejoin="miter"/>
<path d="M655.50 351.88L657.81 356.23L653.19 356.23Z" fill="#a17cf7" fill-opacity="0.8" stroke="#6c38d2" stroke-width="1.15" stroke-linejoin="miter"/>
<path d="M655.50 354.58L657.81 358.93L653.19 358.93Z" fill="#a17cf7" fill-opacity="0.8" stroke="#6c38d2" stroke-width="1.15" stroke-linejoin="miter"/>
<path d="M655.50 361.38L657.81 365.73L653.19 365.73Z" fill="#a17cf7" fill-opacity="0.8" stroke="#6c38d2" stroke-width="1.15" stroke-linejoin="miter"/>
<line x1="668.00" y1="317.30" x2="668.00" y2="346.00" stroke="#f7941d" stroke-width="0.8" />
<line x1="665.80" y1="317.30" x2="670.20" y2="317.30" stroke="#f7941d" stroke-width="0.8" />
<line x1="665.80" y1="346.00" x2="670.20" y2="346.00" stroke="#f7941d" stroke-width="0.8" />
<path d="M668.00 304.72L670.31 300.37L665.69 300.37Z" fill="#fdc47e" fill-opacity="0.7" stroke="#f7941d" stroke-width="1.15"/>
<path d="M667.40 325.62L669.71 321.27L665.09 321.27Z" fill="#fdc47e" fill-opacity="0.7" stroke="#f7941d" stroke-width="1.15"/>
<path d="M669.20 327.42L671.51 323.07L666.89 323.07Z" fill="#fdc47e" fill-opacity="0.7" stroke="#f7941d" stroke-width="1.15"/>
<path d="M666.50 330.12L668.81 325.77L664.19 325.77Z" fill="#fdc47e" fill-opacity="0.7" stroke="#f7941d" stroke-width="1.15"/>
<path d="M668.90 331.92L671.21 327.57L666.59 327.57Z" fill="#fdc47e" fill-opacity="0.7" stroke="#f7941d" stroke-width="1.15"/>
<path d="M666.00 335.12L668.31 330.77L663.69 330.77Z" fill="#fdc47e" fill-opacity="0.7" stroke="#f7941d" stroke-width="1.15"/>
<path d="M669.20 335.12L671.51 330.77L666.89 330.77Z" fill="#fdc47e" fill-opacity="0.7" stroke="#f7941d" stroke-width="1.15"/>
<path d="M667.80 337.31L670.11 332.97L665.49 332.97Z" fill="#fdc47e" fill-opacity="0.7" stroke="#f7941d" stroke-width="1.15"/>
<path d="M667.70 348.42L670.01 344.07L665.39 344.07Z" fill="#fdc47e" fill-opacity="0.7" stroke="#f7941d" stroke-width="1.15"/>
<path d="M667.70 351.92L670.01 347.57L665.39 347.57Z" fill="#fdc47e" fill-opacity="0.7" stroke="#f7941d" stroke-width="1.15"/>
<line x1="680.50" y1="318.00" x2="680.50" y2="362.00" stroke="#cf2f4f" stroke-width="0.8" />
<line x1="680.50" y1="318.00" x2="680.50" y2="318.00" stroke="#cf2f4f" stroke-width="0.8" />
<line x1="680.50" y1="362.00" x2="680.50" y2="362.00" stroke="#cf2f4f" stroke-width="0.8" />
<path d="M680.50 306.52L682.88 308.90L680.50 311.27L678.12 308.90Z" fill="#e399ad" fill-opacity="0.7" stroke="#cf2f4f" stroke-width="1.15"/>
<path d="M681.80 315.52L684.17 317.90L681.80 320.27L679.42 317.90Z" fill="#e399ad" fill-opacity="0.7" stroke="#cf2f4f" stroke-width="1.15"/>
<path d="M680.90 328.93L683.27 331.30L680.90 333.68L678.52 331.30Z" fill="#e399ad" fill-opacity="0.7" stroke="#cf2f4f" stroke-width="1.15"/>
<path d="M681.80 330.73L684.17 333.10L681.80 335.48L679.42 333.10Z" fill="#e399ad" fill-opacity="0.7" stroke="#cf2f4f" stroke-width="1.15"/>
<path d="M680.90 334.32L683.27 336.70L680.90 339.07L678.52 336.70Z" fill="#e399ad" fill-opacity="0.7" stroke="#cf2f4f" stroke-width="1.15"/>
<path d="M680.00 351.93L682.38 354.30L680.00 356.68L677.62 354.30Z" fill="#e399ad" fill-opacity="0.7" stroke="#cf2f4f" stroke-width="1.15"/>
<path d="M678.10 360.23L680.48 362.60L678.10 364.98L675.73 362.60Z" fill="#e399ad" fill-opacity="0.7" stroke="#cf2f4f" stroke-width="1.15"/>
<path d="M681.90 357.82L684.27 360.20L681.90 362.57L679.52 360.20Z" fill="#e399ad" fill-opacity="0.7" stroke="#cf2f4f" stroke-width="1.15"/>
</svg>
</body></html>
